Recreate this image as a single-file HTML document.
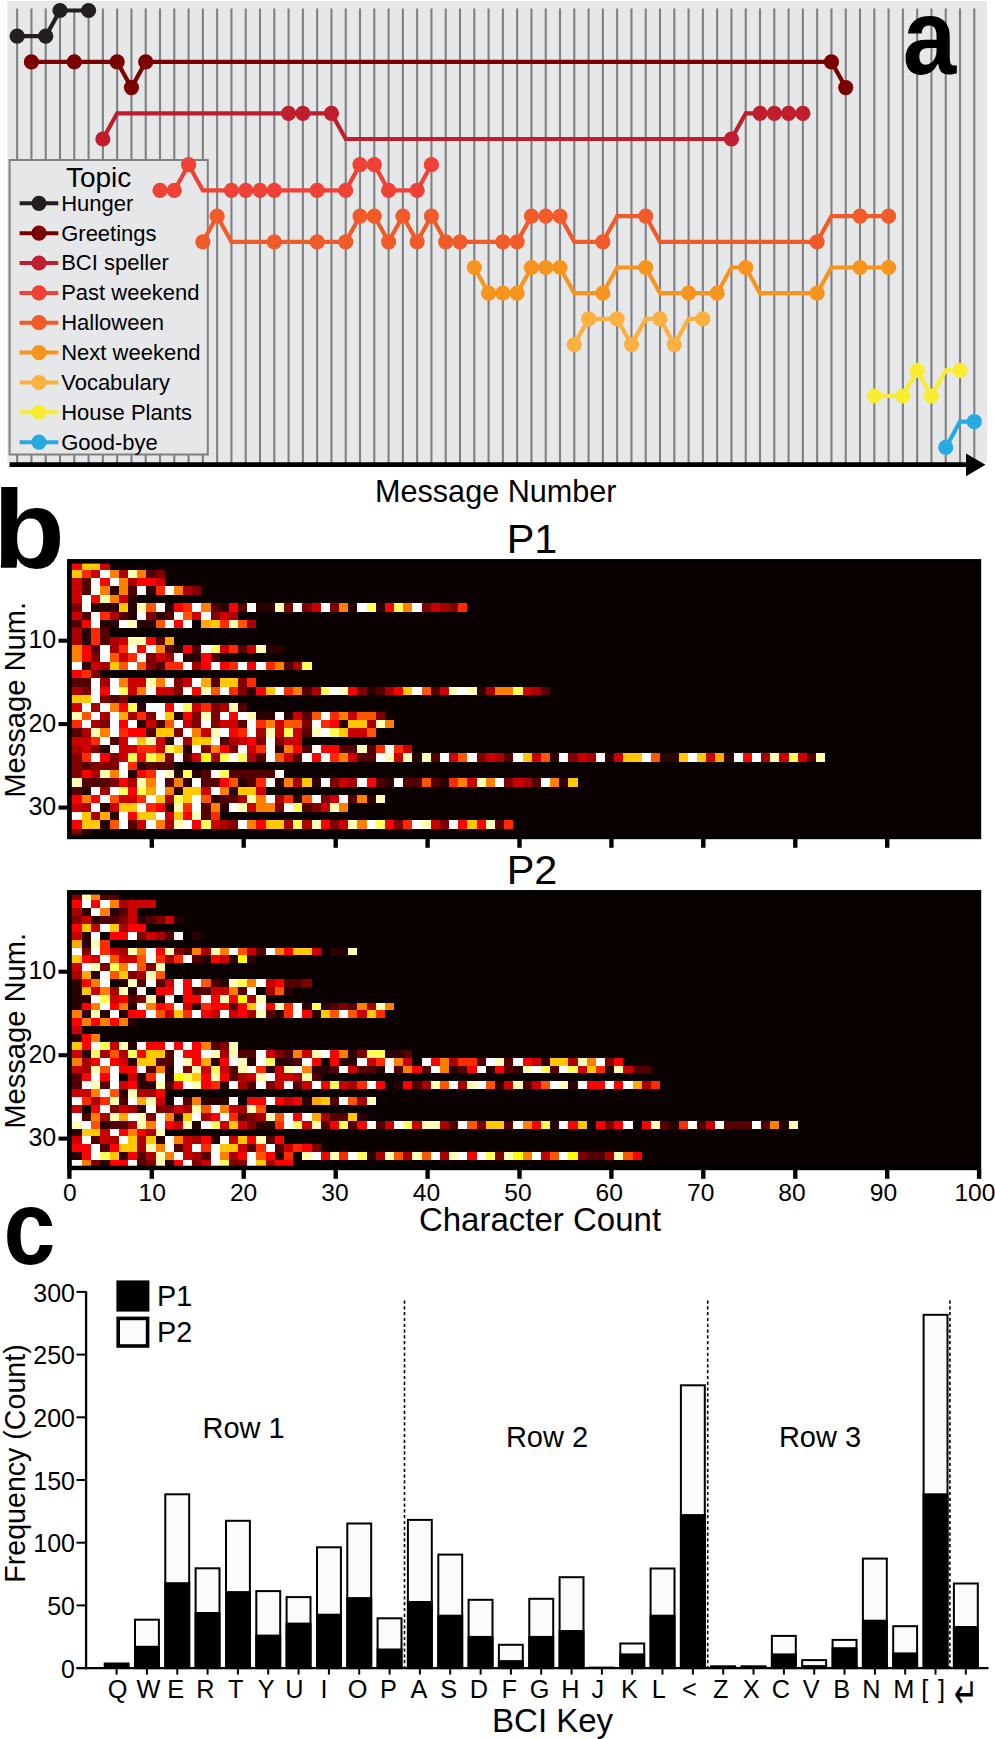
<!DOCTYPE html>
<html lang="en"><head><meta charset="utf-8"><title>Figure</title>
<style>html,body{margin:0;padding:0;background:#fff}svg{display:block}text{font-family:"Liberation Sans", "DejaVu Sans", sans-serif;fill:#000}</style></head><body>
<svg width="995" height="1739" viewBox="0 0 995 1739">
<rect width="995" height="1739" fill="#fff"/>
<g id="panel-a">
<rect x="7.3" y="1" width="979.7" height="462" fill="#e6e7e8"/>
<path d="M17.15 8.5V463M31.44 8.5V463M45.72 8.5V463M60.01 8.5V463M74.29 8.5V463M88.58 8.5V463M102.87 8.5V463M117.15 8.5V463M131.44 8.5V463M145.72 8.5V463M160.01 8.5V463M174.30 8.5V463M188.58 8.5V463M202.87 8.5V463M217.15 8.5V463M231.44 8.5V463M245.73 8.5V463M260.01 8.5V463M274.30 8.5V463M288.58 8.5V463M302.87 8.5V463M317.16 8.5V463M331.44 8.5V463M345.73 8.5V463M360.01 8.5V463M374.30 8.5V463M388.59 8.5V463M402.87 8.5V463M417.16 8.5V463M431.44 8.5V463M445.73 8.5V463M460.02 8.5V463M474.30 8.5V463M488.59 8.5V463M502.87 8.5V463M517.16 8.5V463M531.45 8.5V463M545.73 8.5V463M560.02 8.5V463M574.30 8.5V463M588.59 8.5V463M602.88 8.5V463M617.16 8.5V463M631.45 8.5V463M645.73 8.5V463M660.02 8.5V463M674.31 8.5V463M688.59 8.5V463M702.88 8.5V463M717.16 8.5V463M731.45 8.5V463M745.74 8.5V463M760.02 8.5V463M774.31 8.5V463M788.59 8.5V463M802.88 8.5V463M817.17 8.5V463M831.45 8.5V463M845.74 8.5V463M860.02 8.5V463M874.31 8.5V463M888.60 8.5V463M902.88 8.5V463M917.17 8.5V463M931.45 8.5V463M945.74 8.5V463M960.03 8.5V463M974.31 8.5V463" stroke="#808080" stroke-width="2.1" fill="none"/>
<rect x="9.6" y="160" width="198.2" height="294.5" fill="#e6e7e8" stroke="#808080" stroke-width="2"/>
<text x="98.6" y="186.6" font-size="28" text-anchor="middle">Topic</text>
<path d="M19.6 203.3H58.3" stroke="#231f20" stroke-width="4"/><circle cx="39" cy="203.3" r="7.6" fill="#231f20"/>
<text x="61.2" y="210.7" font-size="22">Hunger</text>
<path d="M19.6 233.2H58.3" stroke="#7b0000" stroke-width="4"/><circle cx="39" cy="233.2" r="7.6" fill="#7b0000"/>
<text x="61.2" y="240.6" font-size="22">Greetings</text>
<path d="M19.6 263.0H58.3" stroke="#be1e2d" stroke-width="4"/><circle cx="39" cy="263.0" r="7.6" fill="#be1e2d"/>
<text x="61.2" y="270.4" font-size="22">BCI speller</text>
<path d="M19.6 292.9H58.3" stroke="#ef4136" stroke-width="4"/><circle cx="39" cy="292.9" r="7.6" fill="#ef4136"/>
<text x="61.2" y="300.3" font-size="22">Past weekend</text>
<path d="M19.6 322.7H58.3" stroke="#f15a29" stroke-width="4"/><circle cx="39" cy="322.7" r="7.6" fill="#f15a29"/>
<text x="61.2" y="330.1" font-size="22">Halloween</text>
<path d="M19.6 352.6H58.3" stroke="#f7941d" stroke-width="4"/><circle cx="39" cy="352.6" r="7.6" fill="#f7941d"/>
<text x="61.2" y="360.0" font-size="22">Next weekend</text>
<path d="M19.6 382.5H58.3" stroke="#fbb040" stroke-width="4"/><circle cx="39" cy="382.5" r="7.6" fill="#fbb040"/>
<text x="61.2" y="389.9" font-size="22">Vocabulary</text>
<path d="M19.6 412.3H58.3" stroke="#f9ed32" stroke-width="4"/><circle cx="39" cy="412.3" r="7.6" fill="#f9ed32"/>
<text x="61.2" y="419.7" font-size="22">House Plants</text>
<path d="M19.6 442.2H58.3" stroke="#27aae1" stroke-width="4"/><circle cx="39" cy="442.2" r="7.6" fill="#27aae1"/>
<text x="61.2" y="449.6" font-size="22">Good-bye</text>
<path d="M17.15 36.20L45.72 36.20L60.01 10.50L88.58 10.50" stroke="#231f20" stroke-width="4.2" fill="none" stroke-linejoin="miter"/>
<circle cx="17.15" cy="36.20" r="7.6" fill="#231f20"/><circle cx="45.72" cy="36.20" r="7.6" fill="#231f20"/><circle cx="60.01" cy="10.50" r="7.6" fill="#231f20"/><circle cx="88.58" cy="10.50" r="7.6" fill="#231f20"/>
<path d="M31.44 61.90L74.29 61.90L117.15 61.90L131.44 87.60L145.72 61.90L831.45 61.90L845.74 87.60" stroke="#7b0000" stroke-width="4.2" fill="none" stroke-linejoin="miter"/>
<circle cx="31.44" cy="61.90" r="7.6" fill="#7b0000"/><circle cx="74.29" cy="61.90" r="7.6" fill="#7b0000"/><circle cx="117.15" cy="61.90" r="7.6" fill="#7b0000"/><circle cx="131.44" cy="87.60" r="7.6" fill="#7b0000"/><circle cx="145.72" cy="61.90" r="7.6" fill="#7b0000"/><circle cx="831.45" cy="61.90" r="7.6" fill="#7b0000"/><circle cx="845.74" cy="87.60" r="7.6" fill="#7b0000"/>
<path d="M102.87 139.00L117.15 113.30L288.58 113.30L302.87 113.30L331.44 113.30L345.73 139.00L731.45 139.00L745.74 113.30L760.02 113.30L774.31 113.30L788.59 113.30L802.88 113.30" stroke="#be1e2d" stroke-width="4.2" fill="none" stroke-linejoin="miter"/>
<circle cx="102.87" cy="139.00" r="7.6" fill="#be1e2d"/><circle cx="288.58" cy="113.30" r="7.6" fill="#be1e2d"/><circle cx="302.87" cy="113.30" r="7.6" fill="#be1e2d"/><circle cx="331.44" cy="113.30" r="7.6" fill="#be1e2d"/><circle cx="731.45" cy="139.00" r="7.6" fill="#be1e2d"/><circle cx="760.02" cy="113.30" r="7.6" fill="#be1e2d"/><circle cx="774.31" cy="113.30" r="7.6" fill="#be1e2d"/><circle cx="788.59" cy="113.30" r="7.6" fill="#be1e2d"/><circle cx="802.88" cy="113.30" r="7.6" fill="#be1e2d"/>
<path d="M160.01 190.40L174.30 190.40L188.58 164.70L202.87 190.40L231.44 190.40L245.73 190.40L260.01 190.40L274.30 190.40L317.16 190.40L345.73 190.40L360.01 164.70L374.30 164.70L388.59 190.40L417.16 190.40L431.44 164.70" stroke="#ef4136" stroke-width="4.2" fill="none" stroke-linejoin="miter"/>
<circle cx="160.01" cy="190.40" r="7.6" fill="#ef4136"/><circle cx="174.30" cy="190.40" r="7.6" fill="#ef4136"/><circle cx="188.58" cy="164.70" r="7.6" fill="#ef4136"/><circle cx="231.44" cy="190.40" r="7.6" fill="#ef4136"/><circle cx="245.73" cy="190.40" r="7.6" fill="#ef4136"/><circle cx="260.01" cy="190.40" r="7.6" fill="#ef4136"/><circle cx="274.30" cy="190.40" r="7.6" fill="#ef4136"/><circle cx="317.16" cy="190.40" r="7.6" fill="#ef4136"/><circle cx="345.73" cy="190.40" r="7.6" fill="#ef4136"/><circle cx="360.01" cy="164.70" r="7.6" fill="#ef4136"/><circle cx="374.30" cy="164.70" r="7.6" fill="#ef4136"/><circle cx="388.59" cy="190.40" r="7.6" fill="#ef4136"/><circle cx="417.16" cy="190.40" r="7.6" fill="#ef4136"/><circle cx="431.44" cy="164.70" r="7.6" fill="#ef4136"/>
<path d="M202.87 241.80L217.15 216.10L231.44 241.80L274.30 241.80L317.16 241.80L345.73 241.80L360.01 216.10L374.30 216.10L388.59 241.80L402.87 216.10L417.16 241.80L431.44 216.10L445.73 241.80L460.02 241.80L502.87 241.80L517.16 241.80L531.45 216.10L545.73 216.10L560.02 216.10L574.30 241.80L602.88 241.80L617.16 216.10L645.73 216.10L660.02 241.80L817.17 241.80L831.45 216.10L860.02 216.10L888.60 216.10" stroke="#f15a29" stroke-width="4.2" fill="none" stroke-linejoin="miter"/>
<circle cx="202.87" cy="241.80" r="7.6" fill="#f15a29"/><circle cx="217.15" cy="216.10" r="7.6" fill="#f15a29"/><circle cx="274.30" cy="241.80" r="7.6" fill="#f15a29"/><circle cx="317.16" cy="241.80" r="7.6" fill="#f15a29"/><circle cx="345.73" cy="241.80" r="7.6" fill="#f15a29"/><circle cx="360.01" cy="216.10" r="7.6" fill="#f15a29"/><circle cx="374.30" cy="216.10" r="7.6" fill="#f15a29"/><circle cx="388.59" cy="241.80" r="7.6" fill="#f15a29"/><circle cx="402.87" cy="216.10" r="7.6" fill="#f15a29"/><circle cx="417.16" cy="241.80" r="7.6" fill="#f15a29"/><circle cx="431.44" cy="216.10" r="7.6" fill="#f15a29"/><circle cx="445.73" cy="241.80" r="7.6" fill="#f15a29"/><circle cx="460.02" cy="241.80" r="7.6" fill="#f15a29"/><circle cx="502.87" cy="241.80" r="7.6" fill="#f15a29"/><circle cx="517.16" cy="241.80" r="7.6" fill="#f15a29"/><circle cx="531.45" cy="216.10" r="7.6" fill="#f15a29"/><circle cx="545.73" cy="216.10" r="7.6" fill="#f15a29"/><circle cx="560.02" cy="216.10" r="7.6" fill="#f15a29"/><circle cx="602.88" cy="241.80" r="7.6" fill="#f15a29"/><circle cx="645.73" cy="216.10" r="7.6" fill="#f15a29"/><circle cx="817.17" cy="241.80" r="7.6" fill="#f15a29"/><circle cx="860.02" cy="216.10" r="7.6" fill="#f15a29"/><circle cx="888.60" cy="216.10" r="7.6" fill="#f15a29"/>
<path d="M474.30 267.50L488.59 293.20L502.87 293.20L517.16 293.20L531.45 267.50L545.73 267.50L560.02 267.50L574.30 293.20L602.88 293.20L617.16 267.50L645.73 267.50L660.02 293.20L688.59 293.20L717.16 293.20L731.45 267.50L745.74 267.50L760.02 293.20L817.17 293.20L831.45 267.50L860.02 267.50L888.60 267.50" stroke="#f7941d" stroke-width="4.2" fill="none" stroke-linejoin="miter"/>
<circle cx="474.30" cy="267.50" r="7.6" fill="#f7941d"/><circle cx="488.59" cy="293.20" r="7.6" fill="#f7941d"/><circle cx="502.87" cy="293.20" r="7.6" fill="#f7941d"/><circle cx="517.16" cy="293.20" r="7.6" fill="#f7941d"/><circle cx="531.45" cy="267.50" r="7.6" fill="#f7941d"/><circle cx="545.73" cy="267.50" r="7.6" fill="#f7941d"/><circle cx="560.02" cy="267.50" r="7.6" fill="#f7941d"/><circle cx="602.88" cy="293.20" r="7.6" fill="#f7941d"/><circle cx="645.73" cy="267.50" r="7.6" fill="#f7941d"/><circle cx="688.59" cy="293.20" r="7.6" fill="#f7941d"/><circle cx="717.16" cy="293.20" r="7.6" fill="#f7941d"/><circle cx="745.74" cy="267.50" r="7.6" fill="#f7941d"/><circle cx="817.17" cy="293.20" r="7.6" fill="#f7941d"/><circle cx="860.02" cy="267.50" r="7.6" fill="#f7941d"/><circle cx="888.60" cy="267.50" r="7.6" fill="#f7941d"/>
<path d="M574.30 344.60L588.59 318.90L617.16 318.90L631.45 344.60L645.73 318.90L660.02 318.90L674.31 344.60L688.59 318.90L702.88 318.90" stroke="#fbb040" stroke-width="4.2" fill="none" stroke-linejoin="miter"/>
<circle cx="574.30" cy="344.60" r="7.6" fill="#fbb040"/><circle cx="588.59" cy="318.90" r="7.6" fill="#fbb040"/><circle cx="617.16" cy="318.90" r="7.6" fill="#fbb040"/><circle cx="631.45" cy="344.60" r="7.6" fill="#fbb040"/><circle cx="660.02" cy="318.90" r="7.6" fill="#fbb040"/><circle cx="674.31" cy="344.60" r="7.6" fill="#fbb040"/><circle cx="702.88" cy="318.90" r="7.6" fill="#fbb040"/>
<path d="M874.31 396.00L902.88 396.00L917.17 370.30L931.45 396.00L945.74 370.30L960.03 370.30" stroke="#f9ed32" stroke-width="4.2" fill="none" stroke-linejoin="miter"/>
<circle cx="874.31" cy="396.00" r="7.6" fill="#f9ed32"/><circle cx="902.88" cy="396.00" r="7.6" fill="#f9ed32"/><circle cx="917.17" cy="370.30" r="7.6" fill="#f9ed32"/><circle cx="931.45" cy="396.00" r="7.6" fill="#f9ed32"/><circle cx="960.03" cy="370.30" r="7.6" fill="#f9ed32"/>
<path d="M945.74 447.40L960.03 421.70L974.31 421.70" stroke="#27aae1" stroke-width="4.2" fill="none" stroke-linejoin="miter"/>
<circle cx="945.74" cy="447.40" r="7.6" fill="#27aae1"/><circle cx="974.31" cy="421.70" r="7.6" fill="#27aae1"/>
<path d="M9.5 464.6H968" stroke="#000" stroke-width="4.6"/><path d="M966 453.5L985.5 464.8L966 476.2z" fill="#000"/>
<text x="375" y="501.5" font-size="32" textLength="241.5" lengthAdjust="spacingAndGlyphs">Message Number</text>
<text transform="translate(902.7 73.9) scale(0.89 1)" font-size="108" font-weight="bold">a</text>
</g>
<g id="panel-b">
<g id="P1">
<rect x="67.2" y="559.2" width="913.9" height="279.9" fill="#0b0000"/>
<clipPath id="clipP1"><rect x="71.6" y="562.2" width="906" height="273.9"/></clipPath>
<g shape-rendering="crispEdges" clip-path="url(#clipP1)">
<path fill="#ff0000" d="M63.7 561.4H82.1V569.7H63.7zM100.4 578.1H109.6V586.4H100.4zM137.1 578.1H155.5V586.4H137.1zM91.3 594.8H100.4V603.1H91.3zM173.8 603.1H183.0V611.5H173.8zM228.9 603.1H238.1V611.5H228.9zM384.9 603.1H394.0V611.5H384.9zM82.1 619.8H91.3V628.2H82.1zM173.8 619.8H183.0V628.2H173.8zM146.3 636.5H155.5V644.9H146.3zM82.1 644.9H91.3V653.2H82.1zM137.1 644.9H146.3V653.2H137.1zM183.0 644.9H192.2V653.2H183.0zM82.1 653.2H91.3V661.5H82.1zM201.4 653.2H210.5V661.5H201.4zM201.4 661.5H210.5V669.9H201.4zM219.7 661.5H228.9V669.9H219.7zM247.2 661.5H256.4V669.9H247.2zM63.7 669.9H82.1V678.2H63.7zM100.4 686.6H109.6V694.9H100.4zM192.2 686.6H201.4V694.9H192.2zM256.4 686.6H265.6V694.9H256.4zM348.2 686.6H357.3V694.9H348.2zM394.0 686.6H403.2V694.9H394.0zM118.8 703.3H128.0V711.6H118.8zM164.7 703.3H173.8V711.6H164.7zM183.0 711.6H192.2V720.0H183.0zM228.9 711.6H238.1V720.0H228.9zM118.8 720.0H128.0V728.3H118.8zM329.8 720.0H339.0V728.3H329.8zM128.0 728.3H146.3V736.7H128.0zM228.9 728.3H238.1V736.7H228.9zM247.2 736.7H256.4V745.0H247.2zM219.7 745.0H228.9V753.3H219.7zM293.1 745.0H302.3V753.3H293.1zM320.6 745.0H339.0V753.3H320.6zM100.4 753.3H109.6V761.7H100.4zM137.1 753.3H146.3V761.7H137.1zM311.5 753.3H320.6V761.7H311.5zM742.7 753.3H751.9V761.7H742.7zM82.1 770.0H91.3V778.4H82.1zM137.1 770.0H146.3V778.4H137.1zM118.8 778.4H128.0V786.7H118.8zM219.7 778.4H228.9V786.7H219.7zM366.5 778.4H375.7V786.7H366.5zM128.0 786.7H137.1V795.1H128.0zM63.7 795.1H82.1V803.4H63.7zM91.3 795.1H100.4V803.4H91.3zM155.5 803.4H164.7V811.8H155.5zM128.0 811.8H137.1V820.1H128.0zM183.0 811.8H192.2V820.1H183.0zM63.7 820.1H82.1V828.5H63.7zM192.2 820.1H201.4V828.5H192.2zM256.4 820.1H265.6V828.5H256.4zM320.6 820.1H329.8V828.5H320.6zM384.9 820.1H394.0V828.5H384.9zM458.3 820.1H467.4V828.5H458.3zM476.6 820.1H485.8V828.5H476.6z"/>
<path fill="#ffc800" d="M82.1 561.4H100.4V569.7H82.1zM63.7 569.7H82.1V578.1H63.7zM118.8 603.1H128.0V611.5H118.8zM210.5 619.8H219.7V628.2H210.5zM109.6 661.5H118.8V669.9H109.6zM219.7 678.2H238.1V686.6H219.7zM265.6 686.6H274.8V694.9H265.6zM403.2 686.6H412.4V694.9H403.2zM63.7 694.9H91.3V703.3H63.7zM164.7 711.6H173.8V720.0H164.7zM348.2 720.0H366.5V728.3H348.2zM155.5 728.3H173.8V736.7H155.5zM339.0 728.3H348.2V736.7H339.0zM137.1 736.7H146.3V745.0H137.1zM192.2 736.7H210.5V745.0H192.2zM173.8 745.0H183.0V753.3H173.8zM155.5 753.3H164.7V761.7H155.5zM522.5 753.3H531.6V761.7H522.5zM623.4 753.3H641.8V761.7H623.4zM678.5 753.3H687.6V761.7H678.5zM696.8 753.3H706.0V761.7H696.8zM302.3 778.4H311.5V786.7H302.3zM568.4 778.4H577.5V786.7H568.4zM183.0 786.7H201.4V795.1H183.0zM238.1 786.7H256.4V795.1H238.1zM155.5 795.1H164.7V803.4H155.5zM183.0 795.1H192.2V803.4H183.0zM118.8 803.4H137.1V811.8H118.8zM82.1 811.8H91.3V820.1H82.1zM137.1 811.8H155.5V820.1H137.1zM173.8 811.8H183.0V820.1H173.8zM82.1 820.1H100.4V828.5H82.1zM265.6 820.1H283.9V828.5H265.6zM467.4 820.1H476.6V828.5H467.4z"/>
<path fill="#cc0000" d="M100.4 561.4H109.6V569.7H100.4zM91.3 569.7H100.4V578.1H91.3zM63.7 578.1H82.1V586.4H63.7zM155.5 578.1H164.7V586.4H155.5zM63.7 586.4H82.1V594.8H63.7zM63.7 594.8H82.1V603.1H63.7zM118.8 594.8H128.0V603.1H118.8zM311.5 603.1H320.6V611.5H311.5zM430.7 603.1H439.9V611.5H430.7zM63.7 611.5H82.1V619.8H63.7zM192.2 611.5H201.4V619.8H192.2zM219.7 611.5H228.9V619.8H219.7zM118.8 636.5H128.0V644.9H118.8zM219.7 644.9H228.9V653.2H219.7zM247.2 644.9H256.4V653.2H247.2zM118.8 653.2H128.0V661.5H118.8zM155.5 653.2H164.7V661.5H155.5zM91.3 661.5H100.4V669.9H91.3zM128.0 678.2H146.3V686.6H128.0zM183.0 678.2H192.2V686.6H183.0zM128.0 686.6H137.1V694.9H128.0zM155.5 686.6H173.8V694.9H155.5zM439.9 686.6H449.1V694.9H439.9zM522.5 686.6H531.6V694.9H522.5zM63.7 703.3H82.1V711.6H63.7zM192.2 703.3H201.4V711.6H192.2zM293.1 711.6H302.3V720.0H293.1zM348.2 711.6H357.3V720.0H348.2zM146.3 720.0H155.5V728.3H146.3zM183.0 720.0H192.2V728.3H183.0zM219.7 720.0H238.1V728.3H219.7zM274.8 720.0H283.9V728.3H274.8zM201.4 728.3H210.5V736.7H201.4zM274.8 728.3H283.9V736.7H274.8zM293.1 728.3H302.3V736.7H293.1zM348.2 728.3H366.5V736.7H348.2zM63.7 736.7H91.3V745.0H63.7zM118.8 736.7H128.0V745.0H118.8zM155.5 736.7H164.7V745.0H155.5zM238.1 736.7H247.2V745.0H238.1zM283.9 736.7H302.3V745.0H283.9zM82.1 745.0H91.3V753.3H82.1zM118.8 745.0H137.1V753.3H118.8zM155.5 745.0H164.7V753.3H155.5zM247.2 745.0H256.4V753.3H247.2zM403.2 745.0H412.4V753.3H403.2zM118.8 753.3H128.0V761.7H118.8zM192.2 753.3H201.4V761.7H192.2zM283.9 753.3H293.1V761.7H283.9zM348.2 753.3H357.3V761.7H348.2zM394.0 753.3H403.2V761.7H394.0zM449.1 753.3H458.3V761.7H449.1zM485.8 753.3H495.0V761.7H485.8zM531.6 753.3H540.8V761.7H531.6zM577.5 753.3H586.7V761.7H577.5zM614.2 753.3H623.4V761.7H614.2zM706.0 753.3H715.2V761.7H706.0zM779.4 753.3H788.6V761.7H779.4zM797.7 753.3H806.9V761.7H797.7zM339.0 778.4H348.2V786.7H339.0zM467.4 778.4H476.6V786.7H467.4zM513.3 778.4H522.5V786.7H513.3zM201.4 786.7H210.5V795.1H201.4zM256.4 786.7H265.6V795.1H256.4zM118.8 795.1H137.1V803.4H118.8zM329.8 795.1H339.0V803.4H329.8zM63.7 803.4H82.1V811.8H63.7zM109.6 803.4H118.8V811.8H109.6zM247.2 803.4H256.4V811.8H247.2zM320.6 803.4H329.8V811.8H320.6zM164.7 811.8H173.8V820.1H164.7zM137.1 820.1H146.3V828.5H137.1zM210.5 820.1H219.7V828.5H210.5zM339.0 820.1H348.2V828.5H339.0zM430.7 820.1H439.9V828.5H430.7z"/>
<path fill="#ff2a00" d="M82.1 569.7H91.3V578.1H82.1zM155.5 586.4H164.7V594.8H155.5zM183.0 603.1H192.2V611.5H183.0zM458.3 603.1H467.4V611.5H458.3zM100.4 611.5H109.6V619.8H100.4zM219.7 619.8H228.9V628.2H219.7zM91.3 628.2H100.4V636.5H91.3zM91.3 636.5H100.4V644.9H91.3zM118.8 644.9H128.0V653.2H118.8zM228.9 644.9H238.1V653.2H228.9zM128.0 653.2H137.1V661.5H128.0zM164.7 661.5H183.0V669.9H164.7zM228.9 661.5H238.1V669.9H228.9zM265.6 661.5H274.8V669.9H265.6zM82.1 669.9H91.3V678.2H82.1zM247.2 678.2H256.4V686.6H247.2zM228.9 686.6H238.1V694.9H228.9zM283.9 686.6H293.1V694.9H283.9zM201.4 703.3H210.5V711.6H201.4zM137.1 711.6H146.3V720.0H137.1zM329.8 711.6H339.0V720.0H329.8zM63.7 720.0H82.1V728.3H63.7zM256.4 720.0H265.6V728.3H256.4zM320.6 720.0H329.8V728.3H320.6zM118.8 728.3H128.0V736.7H118.8zM238.1 728.3H247.2V736.7H238.1zM91.3 736.7H100.4V745.0H91.3zM137.1 745.0H155.5V753.3H137.1zM256.4 745.0H265.6V753.3H256.4zM375.7 745.0H384.9V753.3H375.7zM394.0 745.0H403.2V753.3H394.0zM82.1 753.3H91.3V761.7H82.1zM329.8 753.3H339.0V761.7H329.8zM128.0 761.7H137.1V770.0H128.0zM146.3 770.0H155.5V778.4H146.3zM256.4 778.4H265.6V786.7H256.4zM449.1 778.4H458.3V786.7H449.1zM137.1 795.1H146.3V803.4H137.1zM283.9 795.1H293.1V803.4H283.9zM146.3 803.4H155.5V811.8H146.3zM183.0 803.4H192.2V811.8H183.0zM210.5 811.8H219.7V820.1H210.5zM403.2 820.1H412.4V828.5H403.2zM504.1 820.1H513.3V828.5H504.1z"/>
<path fill="#ffffff" d="M100.4 569.7H109.6V578.1H100.4zM91.3 578.1H100.4V586.4H91.3zM109.6 578.1H118.8V586.4H109.6zM91.3 586.4H100.4V594.8H91.3zM137.1 586.4H146.3V594.8H137.1zM164.7 586.4H173.8V594.8H164.7zM82.1 594.8H91.3V603.1H82.1zM82.1 603.1H91.3V611.5H82.1zM155.5 603.1H164.7V611.5H155.5zM192.2 603.1H201.4V611.5H192.2zM247.2 603.1H256.4V611.5H247.2zM293.1 603.1H302.3V611.5H293.1zM320.6 603.1H329.8V611.5H320.6zM357.3 603.1H366.5V611.5H357.3zM412.4 603.1H421.6V611.5H412.4zM91.3 611.5H100.4V619.8H91.3zM137.1 611.5H146.3V619.8H137.1zM173.8 611.5H183.0V619.8H173.8zM201.4 611.5H210.5V619.8H201.4zM91.3 619.8H100.4V628.2H91.3zM118.8 619.8H128.0V628.2H118.8zM164.7 619.8H173.8V628.2H164.7zM183.0 619.8H192.2V628.2H183.0zM100.4 644.9H109.6V653.2H100.4zM128.0 644.9H137.1V653.2H128.0zM146.3 644.9H155.5V653.2H146.3zM201.4 644.9H210.5V653.2H201.4zM100.4 653.2H109.6V661.5H100.4zM137.1 653.2H146.3V661.5H137.1zM173.8 653.2H183.0V661.5H173.8zM63.7 661.5H82.1V669.9H63.7zM128.0 661.5H137.1V669.9H128.0zM183.0 661.5H192.2V669.9H183.0zM210.5 661.5H219.7V669.9H210.5zM238.1 661.5H247.2V669.9H238.1zM256.4 661.5H265.6V669.9H256.4zM91.3 678.2H100.4V686.6H91.3zM109.6 678.2H118.8V686.6H109.6zM164.7 678.2H173.8V686.6H164.7zM192.2 678.2H201.4V686.6H192.2zM91.3 686.6H100.4V694.9H91.3zM109.6 686.6H118.8V694.9H109.6zM146.3 686.6H155.5V694.9H146.3zM183.0 686.6H192.2V694.9H183.0zM219.7 686.6H228.9V694.9H219.7zM274.8 686.6H283.9V694.9H274.8zM329.8 686.6H339.0V694.9H329.8zM412.4 686.6H421.6V694.9H412.4zM458.3 686.6H467.4V694.9H458.3zM91.3 694.9H100.4V703.3H91.3zM82.1 703.3H91.3V711.6H82.1zM100.4 703.3H109.6V711.6H100.4zM146.3 703.3H164.7V711.6H146.3zM173.8 703.3H183.0V711.6H173.8zM91.3 711.6H100.4V720.0H91.3zM109.6 711.6H118.8V720.0H109.6zM155.5 711.6H164.7V720.0H155.5zM219.7 711.6H228.9V720.0H219.7zM238.1 711.6H247.2V720.0H238.1zM274.8 711.6H283.9V720.0H274.8zM320.6 711.6H329.8V720.0H320.6zM82.1 720.0H91.3V728.3H82.1zM109.6 720.0H118.8V728.3H109.6zM128.0 720.0H137.1V728.3H128.0zM173.8 720.0H183.0V728.3H173.8zM201.4 720.0H210.5V728.3H201.4zM247.2 720.0H256.4V728.3H247.2zM311.5 720.0H320.6V728.3H311.5zM109.6 728.3H118.8V736.7H109.6zM183.0 728.3H192.2V736.7H183.0zM219.7 728.3H228.9V736.7H219.7zM247.2 728.3H256.4V736.7H247.2zM320.6 728.3H329.8V736.7H320.6zM100.4 736.7H109.6V745.0H100.4zM128.0 736.7H137.1V745.0H128.0zM173.8 736.7H183.0V745.0H173.8zM210.5 736.7H219.7V745.0H210.5zM265.6 736.7H274.8V745.0H265.6zM109.6 745.0H118.8V753.3H109.6zM192.2 745.0H201.4V753.3H192.2zM238.1 745.0H247.2V753.3H238.1zM265.6 745.0H274.8V753.3H265.6zM311.5 745.0H320.6V753.3H311.5zM384.9 745.0H394.0V753.3H384.9zM91.3 753.3H100.4V761.7H91.3zM173.8 753.3H183.0V761.7H173.8zM228.9 753.3H238.1V761.7H228.9zM265.6 753.3H274.8V761.7H265.6zM302.3 753.3H311.5V761.7H302.3zM320.6 753.3H329.8V761.7H320.6zM375.7 753.3H384.9V761.7H375.7zM439.9 753.3H449.1V761.7H439.9zM467.4 753.3H476.6V761.7H467.4zM513.3 753.3H522.5V761.7H513.3zM559.2 753.3H568.4V761.7H559.2zM595.9 753.3H605.1V761.7H595.9zM641.8 753.3H650.9V761.7H641.8zM687.6 753.3H696.8V761.7H687.6zM733.5 753.3H742.7V761.7H733.5zM751.9 753.3H761.0V761.7H751.9zM118.8 761.7H128.0V770.0H118.8zM118.8 770.0H128.0V778.4H118.8zM155.5 770.0H164.7V778.4H155.5zM210.5 770.0H219.7V778.4H210.5zM274.8 770.0H283.9V778.4H274.8zM155.5 778.4H164.7V786.7H155.5zM192.2 778.4H201.4V786.7H192.2zM265.6 778.4H274.8V786.7H265.6zM320.6 778.4H329.8V786.7H320.6zM357.3 778.4H366.5V786.7H357.3zM394.0 778.4H403.2V786.7H394.0zM495.0 778.4H504.1V786.7H495.0zM540.8 778.4H550.0V786.7H540.8zM91.3 786.7H100.4V795.1H91.3zM109.6 786.7H118.8V795.1H109.6zM155.5 786.7H164.7V795.1H155.5zM210.5 786.7H219.7V795.1H210.5zM100.4 795.1H109.6V803.4H100.4zM146.3 795.1H155.5V803.4H146.3zM192.2 795.1H201.4V803.4H192.2zM265.6 795.1H274.8V803.4H265.6zM311.5 795.1H320.6V803.4H311.5zM339.0 795.1H348.2V803.4H339.0zM91.3 803.4H100.4V811.8H91.3zM137.1 803.4H146.3V811.8H137.1zM192.2 803.4H201.4V811.8H192.2zM228.9 803.4H238.1V811.8H228.9zM283.9 803.4H293.1V811.8H283.9zM63.7 811.8H82.1V820.1H63.7zM118.8 811.8H128.0V820.1H118.8zM155.5 811.8H164.7V820.1H155.5zM118.8 820.1H128.0V828.5H118.8zM146.3 820.1H155.5V828.5H146.3zM183.0 820.1H192.2V828.5H183.0zM238.1 820.1H247.2V828.5H238.1zM366.5 820.1H375.7V828.5H366.5zM412.4 820.1H421.6V828.5H412.4zM449.1 820.1H458.3V828.5H449.1z"/>
<path fill="#ff8000" d="M109.6 569.7H118.8V578.1H109.6zM137.1 569.7H146.3V578.1H137.1zM118.8 578.1H128.0V586.4H118.8zM100.4 586.4H109.6V594.8H100.4zM118.8 586.4H128.0V594.8H118.8zM173.8 586.4H183.0V594.8H173.8zM109.6 594.8H118.8V603.1H109.6zM201.4 603.1H210.5V611.5H201.4zM339.0 603.1H348.2V611.5H339.0zM403.2 603.1H412.4V611.5H403.2zM63.7 644.9H82.1V653.2H63.7zM155.5 644.9H164.7V653.2H155.5zM63.7 653.2H82.1V661.5H63.7zM274.8 661.5H283.9V669.9H274.8zM118.8 678.2H128.0V686.6H118.8zM155.5 678.2H164.7V686.6H155.5zM137.1 686.6H146.3V694.9H137.1zM293.1 686.6H302.3V694.9H293.1zM495.0 686.6H513.3V694.9H495.0zM109.6 703.3H118.8V711.6H109.6zM339.0 711.6H348.2V720.0H339.0zM265.6 720.0H274.8V728.3H265.6zM384.9 720.0H394.0V728.3H384.9zM100.4 728.3H109.6V736.7H100.4zM192.2 728.3H201.4V736.7H192.2zM210.5 745.0H219.7V753.3H210.5zM283.9 745.0H293.1V753.3H283.9zM339.0 753.3H348.2V761.7H339.0zM109.6 770.0H118.8V778.4H109.6zM146.3 778.4H155.5V786.7H146.3zM173.8 778.4H183.0V786.7H173.8zM283.9 778.4H293.1V786.7H283.9zM458.3 778.4H467.4V786.7H458.3zM485.8 778.4H495.0V786.7H485.8zM550.0 778.4H559.2V786.7H550.0zM164.7 786.7H173.8V795.1H164.7zM219.7 786.7H228.9V795.1H219.7zM82.1 795.1H91.3V803.4H82.1zM256.4 795.1H265.6V803.4H256.4zM357.3 795.1H366.5V803.4H357.3zM210.5 803.4H219.7V811.8H210.5zM256.4 803.4H274.8V811.8H256.4zM339.0 803.4H348.2V811.8H339.0zM155.5 820.1H164.7V828.5H155.5zM247.2 820.1H256.4V828.5H247.2zM357.3 820.1H366.5V828.5H357.3z"/>
<path fill="#aa0000" d="M118.8 569.7H128.0V578.1H118.8zM128.0 578.1H137.1V586.4H128.0zM183.0 586.4H192.2V594.8H183.0zM439.9 603.1H449.1V611.5H439.9zM109.6 611.5H118.8V619.8H109.6zM228.9 611.5H238.1V619.8H228.9zM247.2 619.8H256.4V628.2H247.2zM63.7 628.2H82.1V636.5H63.7zM63.7 636.5H82.1V644.9H63.7zM109.6 636.5H118.8V644.9H109.6zM109.6 644.9H118.8V653.2H109.6zM164.7 653.2H173.8V661.5H164.7zM100.4 661.5H109.6V669.9H100.4zM192.2 661.5H201.4V669.9H192.2zM293.1 661.5H302.3V669.9H293.1zM100.4 678.2H109.6V686.6H100.4zM63.7 686.6H82.1V694.9H63.7zM311.5 686.6H320.6V694.9H311.5zM384.9 686.6H394.0V694.9H384.9zM485.8 686.6H495.0V694.9H485.8zM531.6 686.6H540.8V694.9H531.6zM91.3 703.3H100.4V711.6H91.3zM219.7 703.3H228.9V711.6H219.7zM100.4 711.6H109.6V720.0H100.4zM128.0 711.6H137.1V720.0H128.0zM91.3 720.0H100.4V728.3H91.3zM366.5 720.0H375.7V728.3H366.5zM82.1 728.3H91.3V736.7H82.1zM256.4 728.3H265.6V736.7H256.4zM183.0 736.7H192.2V745.0H183.0zM228.9 736.7H238.1V745.0H228.9zM63.7 745.0H82.1V753.3H63.7zM210.5 753.3H219.7V761.7H210.5zM247.2 753.3H256.4V761.7H247.2zM495.0 753.3H504.1V761.7H495.0zM586.7 753.3H595.9V761.7H586.7zM761.0 753.3H770.2V761.7H761.0zM91.3 770.0H100.4V778.4H91.3zM128.0 778.4H137.1V786.7H128.0zM293.1 778.4H302.3V786.7H293.1zM348.2 778.4H357.3V786.7H348.2zM522.5 778.4H531.6V786.7H522.5zM100.4 786.7H109.6V795.1H100.4zM164.7 795.1H173.8V803.4H164.7zM238.1 795.1H247.2V803.4H238.1zM274.8 795.1H283.9V803.4H274.8zM82.1 803.4H91.3V811.8H82.1zM91.3 811.8H100.4V820.1H91.3zM164.7 820.1H173.8V828.5H164.7zM219.7 820.1H228.9V828.5H219.7zM283.9 820.1H293.1V828.5H283.9zM302.3 820.1H311.5V828.5H302.3z"/>
<path fill="#ffffb4" d="M128.0 569.7H137.1V578.1H128.0zM100.4 594.8H109.6V603.1H100.4zM137.1 603.1H146.3V611.5H137.1zM274.8 603.1H283.9V611.5H274.8zM128.0 619.8H137.1V628.2H128.0zM228.9 619.8H238.1V628.2H228.9zM128.0 636.5H146.3V644.9H128.0zM256.4 644.9H265.6V653.2H256.4zM146.3 678.2H155.5V686.6H146.3zM201.4 686.6H210.5V694.9H201.4zM339.0 686.6H348.2V694.9H339.0zM449.1 686.6H458.3V694.9H449.1zM467.4 686.6H476.6V694.9H467.4zM228.9 703.3H238.1V711.6H228.9zM63.7 711.6H82.1V720.0H63.7zM201.4 711.6H210.5V720.0H201.4zM247.2 711.6H256.4V720.0H247.2zM375.7 720.0H384.9V728.3H375.7zM91.3 728.3H100.4V736.7H91.3zM210.5 728.3H219.7V736.7H210.5zM265.6 728.3H274.8V736.7H265.6zM311.5 728.3H320.6V736.7H311.5zM146.3 736.7H155.5V745.0H146.3zM357.3 745.0H366.5V753.3H357.3zM384.9 753.3H394.0V761.7H384.9zM403.2 753.3H412.4V761.7H403.2zM421.6 753.3H430.7V761.7H421.6zM770.2 753.3H779.4V761.7H770.2zM816.1 753.3H825.3V761.7H816.1zM100.4 770.0H109.6V778.4H100.4zM164.7 770.0H173.8V778.4H164.7zM63.7 778.4H82.1V786.7H63.7zM137.1 778.4H146.3V786.7H137.1zM476.6 778.4H485.8V786.7H476.6zM247.2 795.1H256.4V803.4H247.2zM375.7 795.1H384.9V803.4H375.7zM173.8 803.4H183.0V811.8H173.8zM238.1 803.4H247.2V811.8H238.1zM329.8 803.4H339.0V811.8H329.8zM192.2 811.8H201.4V820.1H192.2zM173.8 820.1H183.0V828.5H173.8zM311.5 820.1H320.6V828.5H311.5zM348.2 820.1H357.3V828.5H348.2zM421.6 820.1H430.7V828.5H421.6zM485.8 820.1H495.0V828.5H485.8z"/>
<path fill="#550000" d="M146.3 569.7H155.5V578.1H146.3zM82.1 578.1H91.3V586.4H82.1zM82.1 586.4H91.3V594.8H82.1zM128.0 586.4H137.1V594.8H128.0zM210.5 603.1H219.7V611.5H210.5zM238.1 603.1H247.2V611.5H238.1zM82.1 611.5H91.3V619.8H82.1zM118.8 611.5H128.0V619.8H118.8zM164.7 611.5H173.8V619.8H164.7zM63.7 619.8H82.1V628.2H63.7zM100.4 628.2H109.6V636.5H100.4zM100.4 636.5H109.6V644.9H100.4zM155.5 636.5H164.7V644.9H155.5zM91.3 644.9H100.4V653.2H91.3zM164.7 644.9H173.8V653.2H164.7zM192.2 644.9H201.4V653.2H192.2zM238.1 644.9H247.2V653.2H238.1zM210.5 653.2H219.7V661.5H210.5zM155.5 661.5H164.7V669.9H155.5zM283.9 661.5H293.1V669.9H283.9zM63.7 678.2H91.3V686.6H63.7zM210.5 678.2H219.7V686.6H210.5zM302.3 686.6H311.5V694.9H302.3zM375.7 686.6H384.9V694.9H375.7zM430.7 686.6H439.9V694.9H430.7zM540.8 686.6H550.0V694.9H540.8zM109.6 694.9H118.8V703.3H109.6zM238.1 703.3H247.2V711.6H238.1zM302.3 711.6H311.5V720.0H302.3zM155.5 720.0H164.7V728.3H155.5zM238.1 720.0H247.2V728.3H238.1zM63.7 728.3H82.1V736.7H63.7zM146.3 728.3H155.5V736.7H146.3zM302.3 728.3H311.5V736.7H302.3zM109.6 736.7H118.8V745.0H109.6zM219.7 736.7H228.9V745.0H219.7zM302.3 745.0H311.5V753.3H302.3zM339.0 745.0H357.3V753.3H339.0zM366.5 745.0H375.7V753.3H366.5zM183.0 753.3H192.2V761.7H183.0zM256.4 753.3H265.6V761.7H256.4zM293.1 753.3H302.3V761.7H293.1zM357.3 753.3H375.7V761.7H357.3zM430.7 753.3H439.9V761.7H430.7zM504.1 753.3H513.3V761.7H504.1zM806.9 753.3H816.1V761.7H806.9zM82.1 761.7H91.3V770.0H82.1zM146.3 761.7H173.8V770.0H146.3zM201.4 770.0H210.5V778.4H201.4zM228.9 770.0H274.8V778.4H228.9zM82.1 778.4H109.6V786.7H82.1zM164.7 778.4H173.8V786.7H164.7zM201.4 778.4H219.7V786.7H201.4zM247.2 778.4H256.4V786.7H247.2zM375.7 778.4H384.9V786.7H375.7zM403.2 778.4H421.6V786.7H403.2zM430.7 778.4H439.9V786.7H430.7zM531.6 778.4H540.8V786.7H531.6zM63.7 786.7H82.1V795.1H63.7zM219.7 795.1H238.1V803.4H219.7zM348.2 795.1H357.3V803.4H348.2zM201.4 803.4H210.5V811.8H201.4zM302.3 803.4H311.5V811.8H302.3zM201.4 811.8H210.5V820.1H201.4zM128.0 820.1H137.1V828.5H128.0zM495.0 820.1H504.1V828.5H495.0z"/>
<path fill="#800000" d="M155.5 569.7H164.7V578.1H155.5zM192.2 586.4H201.4V594.8H192.2zM63.7 603.1H82.1V611.5H63.7zM283.9 603.1H293.1V611.5H283.9zM302.3 603.1H311.5V611.5H302.3zM329.8 603.1H339.0V611.5H329.8zM421.6 603.1H430.7V611.5H421.6zM449.1 603.1H458.3V611.5H449.1zM146.3 611.5H155.5V619.8H146.3zM210.5 611.5H219.7V619.8H210.5zM91.3 653.2H100.4V661.5H91.3zM146.3 653.2H155.5V661.5H146.3zM146.3 661.5H155.5V669.9H146.3zM91.3 669.9H100.4V678.2H91.3zM173.8 678.2H183.0V686.6H173.8zM238.1 678.2H247.2V686.6H238.1zM82.1 686.6H91.3V694.9H82.1zM173.8 686.6H183.0V694.9H173.8zM238.1 686.6H247.2V694.9H238.1zM357.3 686.6H366.5V694.9H357.3zM100.4 694.9H109.6V703.3H100.4zM118.8 694.9H128.0V703.3H118.8zM210.5 703.3H219.7V711.6H210.5zM146.3 711.6H155.5V720.0H146.3zM192.2 711.6H201.4V720.0H192.2zM210.5 711.6H219.7V720.0H210.5zM375.7 711.6H384.9V720.0H375.7zM100.4 720.0H109.6V728.3H100.4zM192.2 720.0H201.4V728.3H192.2zM210.5 720.0H219.7V728.3H210.5zM302.3 720.0H311.5V728.3H302.3zM173.8 728.3H183.0V736.7H173.8zM256.4 736.7H265.6V745.0H256.4zM274.8 736.7H283.9V745.0H274.8zM91.3 745.0H100.4V753.3H91.3zM201.4 745.0H210.5V753.3H201.4zM228.9 745.0H238.1V753.3H228.9zM63.7 753.3H82.1V761.7H63.7zM109.6 753.3H118.8V761.7H109.6zM164.7 753.3H173.8V761.7H164.7zM476.6 753.3H485.8V761.7H476.6zM568.4 753.3H577.5V761.7H568.4zM63.7 761.7H82.1V770.0H63.7zM91.3 761.7H118.8V770.0H91.3zM63.7 770.0H82.1V778.4H63.7zM109.6 778.4H118.8V786.7H109.6zM329.8 778.4H339.0V786.7H329.8zM504.1 778.4H513.3V786.7H504.1zM320.6 795.1H329.8V803.4H320.6zM274.8 803.4H283.9V811.8H274.8zM311.5 803.4H320.6V811.8H311.5zM228.9 820.1H238.1V828.5H228.9zM329.8 820.1H339.0V828.5H329.8zM394.0 820.1H403.2V828.5H394.0zM439.9 820.1H449.1V828.5H439.9zM63.7 828.5H82.1V836.8H63.7z"/>
<path fill="#2a0000" d="M109.6 586.4H118.8V594.8H109.6zM146.3 586.4H155.5V594.8H146.3zM128.0 594.8H137.1V603.1H128.0zM91.3 603.1H118.8V611.5H91.3zM128.0 603.1H137.1V611.5H128.0zM164.7 603.1H173.8V611.5H164.7zM219.7 603.1H228.9V611.5H219.7zM256.4 603.1H274.8V611.5H256.4zM348.2 603.1H357.3V611.5H348.2zM375.7 603.1H384.9V611.5H375.7zM128.0 611.5H137.1V619.8H128.0zM155.5 611.5H164.7V619.8H155.5zM100.4 619.8H118.8V628.2H100.4zM137.1 619.8H155.5V628.2H137.1zM82.1 628.2H91.3V636.5H82.1zM82.1 636.5H91.3V644.9H82.1zM173.8 644.9H183.0V653.2H173.8zM265.6 644.9H283.9V653.2H265.6zM183.0 653.2H201.4V661.5H183.0zM82.1 661.5H91.3V669.9H82.1zM247.2 686.6H256.4V694.9H247.2zM366.5 686.6H375.7V694.9H366.5zM476.6 686.6H485.8V694.9H476.6zM137.1 703.3H146.3V711.6H137.1zM173.8 711.6H183.0V720.0H173.8zM256.4 711.6H274.8V720.0H256.4zM283.9 711.6H293.1V720.0H283.9zM137.1 720.0H146.3V728.3H137.1zM339.0 720.0H348.2V728.3H339.0zM164.7 736.7H173.8V745.0H164.7zM100.4 745.0H109.6V753.3H100.4zM183.0 745.0H192.2V753.3H183.0zM274.8 745.0H283.9V753.3H274.8zM412.4 753.3H421.6V761.7H412.4zM550.0 753.3H559.2V761.7H550.0zM605.1 753.3H614.2V761.7H605.1zM660.1 753.3H678.5V761.7H660.1zM724.3 753.3H733.5V761.7H724.3zM137.1 761.7H146.3V770.0H137.1zM128.0 770.0H137.1V778.4H128.0zM173.8 770.0H183.0V778.4H173.8zM192.2 770.0H201.4V778.4H192.2zM183.0 778.4H192.2V786.7H183.0zM238.1 778.4H247.2V786.7H238.1zM274.8 778.4H283.9V786.7H274.8zM311.5 778.4H320.6V786.7H311.5zM384.9 778.4H394.0V786.7H384.9zM439.9 778.4H449.1V786.7H439.9zM559.2 778.4H568.4V786.7H559.2zM82.1 786.7H91.3V795.1H82.1zM173.8 786.7H183.0V795.1H173.8zM228.9 786.7H238.1V795.1H228.9zM210.5 795.1H219.7V803.4H210.5zM293.1 795.1H302.3V803.4H293.1zM366.5 795.1H375.7V803.4H366.5zM100.4 803.4H109.6V811.8H100.4zM164.7 803.4H173.8V811.8H164.7zM219.7 803.4H228.9V811.8H219.7zM109.6 811.8H118.8V820.1H109.6zM100.4 820.1H109.6V828.5H100.4zM82.1 828.5H91.3V836.8H82.1z"/>
<path fill="#ff5500" d="M146.3 603.1H155.5V611.5H146.3zM183.0 611.5H192.2V619.8H183.0zM155.5 619.8H164.7V628.2H155.5zM238.1 619.8H247.2V628.2H238.1zM109.6 653.2H118.8V661.5H109.6zM118.8 661.5H128.0V669.9H118.8zM137.1 661.5H146.3V669.9H137.1zM210.5 686.6H219.7V694.9H210.5zM421.6 686.6H430.7V694.9H421.6zM82.1 711.6H91.3V720.0H82.1zM311.5 711.6H320.6V720.0H311.5zM357.3 711.6H375.7V720.0H357.3zM164.7 720.0H173.8V728.3H164.7zM283.9 720.0H302.3V728.3H283.9zM366.5 728.3H375.7V736.7H366.5zM274.8 753.3H283.9V761.7H274.8zM458.3 753.3H467.4V761.7H458.3zM540.8 753.3H550.0V761.7H540.8zM650.9 753.3H660.1V761.7H650.9zM228.9 778.4H238.1V786.7H228.9zM421.6 778.4H430.7V786.7H421.6zM109.6 795.1H118.8V803.4H109.6zM201.4 795.1H210.5V803.4H201.4zM302.3 795.1H311.5V803.4H302.3zM109.6 820.1H118.8V828.5H109.6z"/>
<path fill="#ffff55" d="M366.5 603.1H375.7V611.5H366.5zM394.0 603.1H403.2V611.5H394.0zM210.5 644.9H219.7V653.2H210.5zM302.3 661.5H311.5V669.9H302.3zM118.8 686.6H128.0V694.9H118.8zM320.6 686.6H329.8V694.9H320.6zM513.3 686.6H522.5V694.9H513.3zM128.0 703.3H137.1V711.6H128.0zM183.0 703.3H192.2V711.6H183.0zM283.9 728.3H293.1V736.7H283.9zM329.8 728.3H339.0V736.7H329.8zM164.7 745.0H173.8V753.3H164.7zM128.0 753.3H137.1V761.7H128.0zM146.3 753.3H155.5V761.7H146.3zM219.7 753.3H228.9V761.7H219.7zM238.1 753.3H247.2V761.7H238.1zM788.6 753.3H797.7V761.7H788.6zM183.0 770.0H192.2V778.4H183.0zM219.7 770.0H228.9V778.4H219.7zM118.8 786.7H128.0V795.1H118.8zM137.1 786.7H146.3V795.1H137.1zM173.8 795.1H183.0V803.4H173.8zM293.1 803.4H302.3V811.8H293.1zM201.4 820.1H210.5V828.5H201.4zM293.1 820.1H302.3V828.5H293.1zM375.7 820.1H384.9V828.5H375.7z"/>
<path fill="#ffaa00" d="M201.4 619.8H210.5V628.2H201.4zM164.7 636.5H173.8V644.9H164.7zM201.4 678.2H210.5V686.6H201.4zM118.8 711.6H128.0V720.0H118.8zM715.2 753.3H724.3V761.7H715.2zM146.3 786.7H155.5V795.1H146.3zM100.4 811.8H109.6V820.1H100.4z"/>
<path fill="#ffff00" d="M201.4 753.3H210.5V761.7H201.4z"/>
</g>
<rect x="69.4" y="561.4" width="909.5" height="275.5" fill="none" stroke="#000" stroke-width="4.4"/>
<path d="M58.5 640.7H68" stroke="#000" stroke-width="4.1"/>
<text x="56.2" y="648.3" font-size="25" text-anchor="end">10</text>
<path d="M58.5 724.1H68" stroke="#000" stroke-width="4.1"/>
<text x="56.2" y="731.8" font-size="25" text-anchor="end">20</text>
<path d="M58.5 807.6H68" stroke="#000" stroke-width="4.1"/>
<text x="56.2" y="815.2" font-size="25" text-anchor="end">30</text>
<path d="M151.8 838.1V847.8" stroke="#000" stroke-width="4.4"/>
<path d="M243.7 838.1V847.8" stroke="#000" stroke-width="4.4"/>
<path d="M335.7 838.1V847.8" stroke="#000" stroke-width="4.4"/>
<path d="M427.6 838.1V847.8" stroke="#000" stroke-width="4.4"/>
<path d="M519.5 838.1V847.8" stroke="#000" stroke-width="4.4"/>
<path d="M611.4 838.1V847.8" stroke="#000" stroke-width="4.4"/>
<path d="M703.3 838.1V847.8" stroke="#000" stroke-width="4.4"/>
<path d="M795.3 838.1V847.8" stroke="#000" stroke-width="4.4"/>
<path d="M887.2 838.1V847.8" stroke="#000" stroke-width="4.4"/>
<text x="506.7" y="552.6" font-size="41.4">P1</text>
<text transform="translate(24.9 797.8) rotate(-90)" font-size="30.2" textLength="196" lengthAdjust="spacingAndGlyphs">Message Num.</text>
</g>
<g id="P2">
<rect x="67.2" y="890.2" width="913.9" height="279.9" fill="#0b0000"/>
<clipPath id="clipP2"><rect x="71.6" y="893.2" width="906" height="273.9"/></clipPath>
<g shape-rendering="crispEdges" clip-path="url(#clipP2)">
<path fill="#800000" d="M63.7 892.4H82.1V900.3H63.7zM63.7 916.0H82.1V923.9H63.7zM118.8 916.0H128.0V923.9H118.8zM155.5 916.0H164.7V923.9H155.5zM137.1 931.7H146.3V939.6H137.1zM82.1 947.5H91.3V955.3H82.1zM173.8 947.5H183.0V955.3H173.8zM100.4 963.2H109.6V971.1H100.4zM146.3 963.2H155.5V971.1H146.3zM128.0 971.1H137.1V979.0H128.0zM302.3 979.0H311.5V986.8H302.3zM137.1 994.7H146.3V1002.6H137.1zM339.0 1002.6H348.2V1010.4H339.0zM219.7 1041.9H228.9V1049.8H219.7zM274.8 1049.8H283.9V1057.6H274.8zM357.3 1049.8H366.5V1057.6H357.3zM605.1 1057.6H614.2V1065.5H605.1zM183.0 1065.5H192.2V1073.4H183.0zM265.6 1081.2H274.8V1089.1H265.6zM109.6 1104.9H118.8V1112.7H109.6zM155.5 1104.9H173.8V1112.7H155.5zM146.3 1112.7H155.5V1120.6H146.3zM247.2 1112.7H256.4V1120.6H247.2zM247.2 1120.6H256.4V1128.5H247.2zM476.6 1120.6H485.8V1128.5H476.6zM605.1 1120.6H614.2V1128.5H605.1zM311.5 1144.2H320.6V1152.1H311.5zM495.0 1152.1H504.1V1159.9H495.0zM577.5 1152.1H586.7V1159.9H577.5zM91.3 1159.9H100.4V1167.8H91.3zM146.3 1159.9H155.5V1167.8H146.3zM192.2 1159.9H201.4V1167.8H192.2zM228.9 1159.9H247.2V1167.8H228.9z"/>
<path fill="#ffffb4" d="M82.1 892.4H91.3V900.3H82.1zM91.3 939.6H100.4V947.5H91.3zM128.0 947.5H137.1V955.3H128.0zM164.7 947.5H173.8V955.3H164.7zM210.5 947.5H219.7V955.3H210.5zM348.2 947.5H357.3V955.3H348.2zM91.3 963.2H100.4V971.1H91.3zM155.5 963.2H164.7V971.1H155.5zM146.3 971.1H155.5V979.0H146.3zM128.0 979.0H137.1V986.8H128.0zM228.9 979.0H238.1V986.8H228.9zM118.8 986.8H128.0V994.7H118.8zM146.3 994.7H155.5V1002.6H146.3zM219.7 994.7H228.9V1002.6H219.7zM256.4 994.7H265.6V1002.6H256.4zM274.8 1002.6H283.9V1010.4H274.8zM375.7 1002.6H384.9V1010.4H375.7zM91.3 1010.4H100.4V1018.3H91.3zM256.4 1010.4H265.6V1018.3H256.4zM118.8 1041.9H128.0V1049.8H118.8zM228.9 1041.9H238.1V1049.8H228.9zM210.5 1049.8H219.7V1057.6H210.5zM228.9 1049.8H238.1V1057.6H228.9zM311.5 1049.8H320.6V1057.6H311.5zM183.0 1057.6H192.2V1065.5H183.0zM238.1 1057.6H247.2V1065.5H238.1zM495.0 1057.6H504.1V1065.5H495.0zM577.5 1057.6H586.7V1065.5H577.5zM91.3 1065.5H100.4V1073.4H91.3zM192.2 1065.5H201.4V1073.4H192.2zM238.1 1065.5H247.2V1073.4H238.1zM283.9 1065.5H293.1V1073.4H283.9zM522.5 1065.5H531.6V1073.4H522.5zM614.2 1065.5H623.4V1073.4H614.2zM210.5 1073.4H219.7V1081.2H210.5zM256.4 1073.4H265.6V1081.2H256.4zM302.3 1073.4H311.5V1081.2H302.3zM91.3 1081.2H100.4V1089.1H91.3zM155.5 1081.2H164.7V1089.1H155.5zM192.2 1081.2H201.4V1089.1H192.2zM430.7 1081.2H439.9V1089.1H430.7zM467.4 1081.2H476.6V1089.1H467.4zM513.3 1081.2H522.5V1089.1H513.3zM559.2 1081.2H568.4V1089.1H559.2zM128.0 1089.1H137.1V1097.0H128.0zM109.6 1097.0H118.8V1104.9H109.6zM146.3 1097.0H155.5V1104.9H146.3zM366.5 1097.0H375.7V1104.9H366.5zM192.2 1104.9H201.4V1112.7H192.2zM247.2 1104.9H256.4V1112.7H247.2zM109.6 1112.7H118.8V1120.6H109.6zM137.1 1112.7H146.3V1120.6H137.1zM265.6 1112.7H274.8V1120.6H265.6zM63.7 1120.6H82.1V1128.5H63.7zM137.1 1120.6H146.3V1128.5H137.1zM183.0 1120.6H192.2V1128.5H183.0zM311.5 1120.6H320.6V1128.5H311.5zM421.6 1120.6H439.9V1128.5H421.6zM650.9 1120.6H660.1V1128.5H650.9zM788.6 1120.6H797.7V1128.5H788.6zM155.5 1128.5H164.7V1136.3H155.5zM256.4 1136.3H265.6V1144.2H256.4zM146.3 1144.2H155.5V1152.1H146.3zM155.5 1152.1H164.7V1159.9H155.5zM302.3 1152.1H311.5V1159.9H302.3zM329.8 1152.1H339.0V1159.9H329.8zM384.9 1152.1H394.0V1159.9H384.9zM412.4 1152.1H421.6V1159.9H412.4zM449.1 1152.1H458.3V1159.9H449.1zM504.1 1152.1H513.3V1159.9H504.1zM614.2 1152.1H623.4V1159.9H614.2zM155.5 1159.9H164.7V1167.8H155.5z"/>
<path fill="#ff8000" d="M91.3 892.4H100.4V900.3H91.3zM109.6 900.3H118.8V908.1H109.6zM100.4 908.1H109.6V916.0H100.4zM137.1 947.5H146.3V955.3H137.1zM192.2 947.5H201.4V955.3H192.2zM219.7 947.5H228.9V955.3H219.7zM274.8 947.5H283.9V955.3H274.8zM118.8 963.2H128.0V971.1H118.8zM91.3 979.0H100.4V986.8H91.3zM247.2 979.0H256.4V986.8H247.2zM100.4 986.8H109.6V994.7H100.4zM228.9 986.8H238.1V994.7H228.9zM91.3 1002.6H100.4V1010.4H91.3zM118.8 1002.6H128.0V1010.4H118.8zM146.3 1002.6H155.5V1010.4H146.3zM357.3 1002.6H366.5V1010.4H357.3zM384.9 1002.6H394.0V1010.4H384.9zM63.7 1010.4H82.1V1018.3H63.7zM82.1 1018.3H91.3V1026.2H82.1zM100.4 1018.3H109.6V1026.2H100.4zM118.8 1018.3H128.0V1026.2H118.8zM91.3 1034.0H100.4V1041.9H91.3zM201.4 1041.9H210.5V1049.8H201.4zM293.1 1049.8H302.3V1057.6H293.1zM339.0 1049.8H348.2V1057.6H339.0zM63.7 1057.6H82.1V1065.5H63.7zM394.0 1057.6H403.2V1065.5H394.0zM439.9 1057.6H449.1V1065.5H439.9zM586.7 1057.6H595.9V1065.5H586.7zM155.5 1065.5H164.7V1073.4H155.5zM302.3 1065.5H311.5V1073.4H302.3zM403.2 1065.5H412.4V1073.4H403.2zM439.9 1065.5H449.1V1073.4H439.9zM91.3 1089.1H100.4V1097.0H91.3zM192.2 1097.0H201.4V1104.9H192.2zM219.7 1104.9H228.9V1112.7H219.7zM91.3 1112.7H100.4V1120.6H91.3zM164.7 1112.7H173.8V1120.6H164.7zM146.3 1120.6H155.5V1128.5H146.3zM522.5 1120.6H531.6V1128.5H522.5zM770.2 1120.6H779.4V1128.5H770.2zM128.0 1128.5H137.1V1136.3H128.0zM173.8 1136.3H183.0V1144.2H173.8zM155.5 1144.2H164.7V1152.1H155.5zM164.7 1152.1H173.8V1159.9H164.7zM219.7 1152.1H228.9V1159.9H219.7zM522.5 1152.1H531.6V1159.9H522.5zM82.1 1159.9H91.3V1167.8H82.1z"/>
<path fill="#550000" d="M100.4 892.4H118.8V900.3H100.4zM118.8 908.1H128.0V916.0H118.8zM100.4 916.0H118.8V923.9H100.4zM146.3 916.0H155.5V923.9H146.3zM164.7 931.7H173.8V939.6H164.7zM183.0 947.5H192.2V955.3H183.0zM256.4 947.5H265.6V955.3H256.4zM192.2 955.3H201.4V963.2H192.2zM137.1 979.0H146.3V986.8H137.1zM155.5 979.0H164.7V986.8H155.5zM210.5 979.0H219.7V986.8H210.5zM283.9 979.0H302.3V986.8H283.9zM192.2 986.8H210.5V994.7H192.2zM238.1 986.8H247.2V994.7H238.1zM128.0 994.7H137.1V1002.6H128.0zM228.9 1002.6H238.1V1010.4H228.9zM329.8 1002.6H339.0V1010.4H329.8zM348.2 1002.6H357.3V1010.4H348.2zM265.6 1010.4H274.8V1018.3H265.6zM210.5 1041.9H219.7V1049.8H210.5zM164.7 1049.8H173.8V1057.6H164.7zM238.1 1049.8H256.4V1057.6H238.1zM283.9 1049.8H293.1V1057.6H283.9zM403.2 1049.8H412.4V1057.6H403.2zM155.5 1057.6H173.8V1065.5H155.5zM293.1 1057.6H302.3V1065.5H293.1zM476.6 1057.6H485.8V1065.5H476.6zM504.1 1057.6H513.3V1065.5H504.1zM146.3 1065.5H155.5V1073.4H146.3zM228.9 1065.5H238.1V1073.4H228.9zM329.8 1065.5H339.0V1073.4H329.8zM357.3 1065.5H375.7V1073.4H357.3zM394.0 1065.5H403.2V1073.4H394.0zM421.6 1065.5H430.7V1073.4H421.6zM458.3 1065.5H467.4V1073.4H458.3zM504.1 1065.5H513.3V1073.4H504.1zM550.0 1065.5H559.2V1073.4H550.0zM632.6 1065.5H650.9V1073.4H632.6zM63.7 1073.4H82.1V1081.2H63.7zM228.9 1073.4H238.1V1081.2H228.9zM311.5 1073.4H320.6V1081.2H311.5zM63.7 1081.2H82.1V1089.1H63.7zM100.4 1081.2H109.6V1089.1H100.4zM164.7 1081.2H173.8V1089.1H164.7zM247.2 1081.2H256.4V1089.1H247.2zM293.1 1081.2H302.3V1089.1H293.1zM412.4 1081.2H421.6V1089.1H412.4zM522.5 1081.2H531.6V1089.1H522.5zM118.8 1097.0H128.0V1104.9H118.8zM183.0 1097.0H192.2V1104.9H183.0zM329.8 1097.0H339.0V1104.9H329.8zM82.1 1112.7H91.3V1120.6H82.1zM238.1 1112.7H247.2V1120.6H238.1zM329.8 1112.7H348.2V1120.6H329.8zM109.6 1120.6H128.0V1128.5H109.6zM320.6 1120.6H329.8V1128.5H320.6zM348.2 1120.6H357.3V1128.5H348.2zM375.7 1120.6H384.9V1128.5H375.7zM449.1 1120.6H458.3V1128.5H449.1zM504.1 1120.6H513.3V1128.5H504.1zM660.1 1120.6H669.3V1128.5H660.1zM696.8 1120.6H706.0V1128.5H696.8zM724.3 1120.6H751.9V1128.5H724.3zM761.0 1120.6H770.2V1128.5H761.0zM91.3 1136.3H100.4V1144.2H91.3zM265.6 1136.3H274.8V1144.2H265.6zM100.4 1144.2H109.6V1152.1H100.4zM173.8 1144.2H183.0V1152.1H173.8zM247.2 1144.2H256.4V1152.1H247.2zM274.8 1144.2H283.9V1152.1H274.8zM137.1 1152.1H146.3V1159.9H137.1zM201.4 1152.1H210.5V1159.9H201.4zM586.7 1152.1H605.1V1159.9H586.7zM137.1 1159.9H146.3V1167.8H137.1z"/>
<path fill="#ff0000" d="M63.7 900.3H82.1V908.1H63.7zM91.3 900.3H100.4V908.1H91.3zM63.7 923.9H82.1V931.7H63.7zM128.0 923.9H146.3V931.7H128.0zM109.6 931.7H128.0V939.6H109.6zM155.5 947.5H164.7V955.3H155.5zM283.9 947.5H293.1V955.3H283.9zM82.1 955.3H91.3V963.2H82.1zM210.5 955.3H219.7V963.2H210.5zM82.1 979.0H91.3V986.8H82.1zM183.0 979.0H192.2V986.8H183.0zM274.8 979.0H283.9V986.8H274.8zM155.5 986.8H173.8V994.7H155.5zM183.0 986.8H192.2V994.7H183.0zM118.8 994.7H128.0V1002.6H118.8zM183.0 994.7H201.4V1002.6H183.0zM210.5 994.7H219.7V1002.6H210.5zM228.9 994.7H238.1V1002.6H228.9zM82.1 1002.6H91.3V1010.4H82.1zM109.6 1002.6H118.8V1010.4H109.6zM155.5 1002.6H164.7V1010.4H155.5zM210.5 1002.6H228.9V1010.4H210.5zM238.1 1002.6H247.2V1010.4H238.1zM265.6 1002.6H274.8V1010.4H265.6zM128.0 1010.4H146.3V1018.3H128.0zM201.4 1010.4H210.5V1018.3H201.4zM238.1 1010.4H247.2V1018.3H238.1zM302.3 1010.4H311.5V1018.3H302.3zM63.7 1018.3H82.1V1026.2H63.7zM91.3 1018.3H100.4V1026.2H91.3zM109.6 1018.3H118.8V1026.2H109.6zM82.1 1034.0H91.3V1041.9H82.1zM82.1 1041.9H91.3V1049.8H82.1zM146.3 1041.9H164.7V1049.8H146.3zM173.8 1041.9H183.0V1049.8H173.8zM192.2 1041.9H201.4V1049.8H192.2zM137.1 1049.8H146.3V1057.6H137.1zM183.0 1049.8H201.4V1057.6H183.0zM329.8 1049.8H339.0V1057.6H329.8zM91.3 1057.6H100.4V1065.5H91.3zM109.6 1057.6H118.8V1065.5H109.6zM192.2 1057.6H201.4V1065.5H192.2zM219.7 1057.6H228.9V1065.5H219.7zM311.5 1057.6H320.6V1065.5H311.5zM329.8 1057.6H339.0V1065.5H329.8zM430.7 1057.6H439.9V1065.5H430.7zM522.5 1057.6H531.6V1065.5H522.5zM614.2 1057.6H623.4V1065.5H614.2zM118.8 1065.5H137.1V1073.4H118.8zM412.4 1065.5H421.6V1073.4H412.4zM467.4 1065.5H476.6V1073.4H467.4zM495.0 1065.5H504.1V1073.4H495.0zM82.1 1073.4H91.3V1081.2H82.1zM100.4 1073.4H109.6V1081.2H100.4zM201.4 1073.4H210.5V1081.2H201.4zM219.7 1073.4H228.9V1081.2H219.7zM128.0 1081.2H137.1V1089.1H128.0zM173.8 1081.2H183.0V1089.1H173.8zM201.4 1081.2H210.5V1089.1H201.4zM320.6 1081.2H329.8V1089.1H320.6zM375.7 1081.2H384.9V1089.1H375.7zM403.2 1081.2H412.4V1089.1H403.2zM586.7 1081.2H605.1V1089.1H586.7zM614.2 1081.2H623.4V1089.1H614.2zM155.5 1089.1H164.7V1097.0H155.5zM247.2 1097.0H265.6V1104.9H247.2zM274.8 1097.0H283.9V1104.9H274.8zM293.1 1097.0H302.3V1104.9H293.1zM91.3 1104.9H100.4V1112.7H91.3zM210.5 1112.7H219.7V1120.6H210.5zM293.1 1112.7H302.3V1120.6H293.1zM164.7 1120.6H173.8V1128.5H164.7zM329.8 1120.6H339.0V1128.5H329.8zM357.3 1120.6H366.5V1128.5H357.3zM531.6 1120.6H540.8V1128.5H531.6zM568.4 1120.6H577.5V1128.5H568.4zM595.9 1120.6H605.1V1128.5H595.9zM614.2 1120.6H623.4V1128.5H614.2zM641.8 1120.6H650.9V1128.5H641.8zM118.8 1128.5H128.0V1136.3H118.8zM137.1 1128.5H146.3V1136.3H137.1zM201.4 1136.3H210.5V1144.2H201.4zM247.2 1136.3H256.4V1144.2H247.2zM274.8 1136.3H283.9V1144.2H274.8zM63.7 1144.2H91.3V1152.1H63.7zM109.6 1144.2H118.8V1152.1H109.6zM302.3 1144.2H311.5V1152.1H302.3zM82.1 1152.1H91.3V1159.9H82.1zM128.0 1152.1H137.1V1159.9H128.0zM238.1 1152.1H247.2V1159.9H238.1zM265.6 1152.1H274.8V1159.9H265.6zM320.6 1152.1H329.8V1159.9H320.6zM467.4 1152.1H476.6V1159.9H467.4zM632.6 1152.1H641.8V1159.9H632.6zM109.6 1159.9H128.0V1167.8H109.6zM173.8 1159.9H183.0V1167.8H173.8zM274.8 1159.9H293.1V1167.8H274.8z"/>
<path fill="#ffffff" d="M82.1 900.3H91.3V908.1H82.1zM100.4 900.3H109.6V908.1H100.4zM91.3 908.1H100.4V916.0H91.3zM100.4 923.9H109.6V931.7H100.4zM91.3 931.7H100.4V939.6H91.3zM128.0 931.7H137.1V939.6H128.0zM173.8 931.7H183.0V939.6H173.8zM63.7 947.5H82.1V955.3H63.7zM91.3 947.5H100.4V955.3H91.3zM146.3 947.5H155.5V955.3H146.3zM228.9 947.5H238.1V955.3H228.9zM265.6 947.5H274.8V955.3H265.6zM100.4 955.3H109.6V963.2H100.4zM146.3 955.3H155.5V963.2H146.3zM183.0 955.3H192.2V963.2H183.0zM82.1 963.2H91.3V971.1H82.1zM128.0 963.2H137.1V971.1H128.0zM100.4 971.1H109.6V979.0H100.4zM100.4 979.0H109.6V986.8H100.4zM146.3 979.0H155.5V986.8H146.3zM173.8 979.0H183.0V986.8H173.8zM192.2 979.0H201.4V986.8H192.2zM256.4 979.0H265.6V986.8H256.4zM137.1 986.8H146.3V994.7H137.1zM173.8 986.8H183.0V994.7H173.8zM247.2 986.8H256.4V994.7H247.2zM91.3 994.7H100.4V1002.6H91.3zM164.7 994.7H173.8V1002.6H164.7zM201.4 994.7H210.5V1002.6H201.4zM100.4 1002.6H109.6V1010.4H100.4zM137.1 1002.6H146.3V1010.4H137.1zM173.8 1002.6H183.0V1010.4H173.8zM256.4 1002.6H265.6V1010.4H256.4zM293.1 1002.6H302.3V1010.4H293.1zM109.6 1010.4H118.8V1018.3H109.6zM146.3 1010.4H155.5V1018.3H146.3zM192.2 1010.4H201.4V1018.3H192.2zM219.7 1010.4H228.9V1018.3H219.7zM293.1 1010.4H302.3V1018.3H293.1zM339.0 1010.4H348.2V1018.3H339.0zM91.3 1041.9H100.4V1049.8H91.3zM137.1 1041.9H146.3V1049.8H137.1zM164.7 1041.9H173.8V1049.8H164.7zM183.0 1041.9H192.2V1049.8H183.0zM173.8 1049.8H183.0V1057.6H173.8zM201.4 1049.8H210.5V1057.6H201.4zM256.4 1049.8H265.6V1057.6H256.4zM320.6 1049.8H329.8V1057.6H320.6zM100.4 1057.6H109.6V1065.5H100.4zM173.8 1057.6H183.0V1065.5H173.8zM228.9 1057.6H238.1V1065.5H228.9zM256.4 1057.6H265.6V1065.5H256.4zM302.3 1057.6H311.5V1065.5H302.3zM357.3 1057.6H366.5V1065.5H357.3zM384.9 1057.6H394.0V1065.5H384.9zM421.6 1057.6H430.7V1065.5H421.6zM485.8 1057.6H495.0V1065.5H485.8zM513.3 1057.6H522.5V1065.5H513.3zM595.9 1057.6H605.1V1065.5H595.9zM109.6 1065.5H118.8V1073.4H109.6zM137.1 1065.5H146.3V1073.4H137.1zM173.8 1065.5H183.0V1073.4H173.8zM247.2 1065.5H256.4V1073.4H247.2zM293.1 1065.5H302.3V1073.4H293.1zM339.0 1065.5H348.2V1073.4H339.0zM384.9 1065.5H394.0V1073.4H384.9zM430.7 1065.5H439.9V1073.4H430.7zM476.6 1065.5H485.8V1073.4H476.6zM531.6 1065.5H540.8V1073.4H531.6zM559.2 1065.5H568.4V1073.4H559.2zM91.3 1073.4H100.4V1081.2H91.3zM109.6 1073.4H118.8V1081.2H109.6zM155.5 1073.4H164.7V1081.2H155.5zM265.6 1073.4H274.8V1081.2H265.6zM82.1 1081.2H91.3V1089.1H82.1zM109.6 1081.2H118.8V1089.1H109.6zM183.0 1081.2H192.2V1089.1H183.0zM228.9 1081.2H238.1V1089.1H228.9zM256.4 1081.2H265.6V1089.1H256.4zM283.9 1081.2H293.1V1089.1H283.9zM311.5 1081.2H320.6V1089.1H311.5zM366.5 1081.2H375.7V1089.1H366.5zM449.1 1081.2H458.3V1089.1H449.1zM476.6 1081.2H485.8V1089.1H476.6zM550.0 1081.2H559.2V1089.1H550.0zM577.5 1081.2H586.7V1089.1H577.5zM605.1 1081.2H614.2V1089.1H605.1zM623.4 1081.2H632.6V1089.1H623.4zM100.4 1089.1H109.6V1097.0H100.4zM63.7 1097.0H82.1V1104.9H63.7zM128.0 1097.0H137.1V1104.9H128.0zM173.8 1097.0H183.0V1104.9H173.8zM228.9 1097.0H238.1V1104.9H228.9zM265.6 1097.0H274.8V1104.9H265.6zM339.0 1097.0H348.2V1104.9H339.0zM100.4 1104.9H109.6V1112.7H100.4zM146.3 1104.9H155.5V1112.7H146.3zM210.5 1104.9H219.7V1112.7H210.5zM63.7 1112.7H82.1V1120.6H63.7zM128.0 1112.7H137.1V1120.6H128.0zM155.5 1112.7H164.7V1120.6H155.5zM192.2 1112.7H201.4V1120.6H192.2zM219.7 1112.7H228.9V1120.6H219.7zM283.9 1112.7H293.1V1120.6H283.9zM302.3 1112.7H311.5V1120.6H302.3zM82.1 1120.6H91.3V1128.5H82.1zM155.5 1120.6H164.7V1128.5H155.5zM201.4 1120.6H210.5V1128.5H201.4zM283.9 1120.6H293.1V1128.5H283.9zM366.5 1120.6H375.7V1128.5H366.5zM394.0 1120.6H403.2V1128.5H394.0zM458.3 1120.6H467.4V1128.5H458.3zM513.3 1120.6H522.5V1128.5H513.3zM559.2 1120.6H568.4V1128.5H559.2zM623.4 1120.6H632.6V1128.5H623.4zM687.6 1120.6H696.8V1128.5H687.6zM715.2 1120.6H724.3V1128.5H715.2zM751.9 1120.6H761.0V1128.5H751.9zM109.6 1128.5H118.8V1136.3H109.6zM82.1 1136.3H91.3V1144.2H82.1zM118.8 1136.3H128.0V1144.2H118.8zM164.7 1136.3H173.8V1144.2H164.7zM219.7 1136.3H228.9V1144.2H219.7zM91.3 1144.2H100.4V1152.1H91.3zM164.7 1144.2H173.8V1152.1H164.7zM192.2 1144.2H201.4V1152.1H192.2zM210.5 1144.2H219.7V1152.1H210.5zM265.6 1144.2H274.8V1152.1H265.6zM91.3 1152.1H100.4V1159.9H91.3zM173.8 1152.1H183.0V1159.9H173.8zM210.5 1152.1H219.7V1159.9H210.5zM247.2 1152.1H256.4V1159.9H247.2zM311.5 1152.1H320.6V1159.9H311.5zM348.2 1152.1H357.3V1159.9H348.2zM430.7 1152.1H439.9V1159.9H430.7zM458.3 1152.1H467.4V1159.9H458.3zM476.6 1152.1H485.8V1159.9H476.6zM531.6 1152.1H540.8V1159.9H531.6zM559.2 1152.1H568.4V1159.9H559.2zM63.7 1159.9H82.1V1167.8H63.7zM128.0 1159.9H137.1V1167.8H128.0zM183.0 1159.9H192.2V1167.8H183.0zM210.5 1159.9H219.7V1167.8H210.5zM247.2 1159.9H256.4V1167.8H247.2z"/>
<path fill="#aa0000" d="M118.8 900.3H128.0V908.1H118.8zM63.7 908.1H82.1V916.0H63.7zM118.8 923.9H128.0V931.7H118.8zM155.5 931.7H164.7V939.6H155.5zM118.8 947.5H128.0V955.3H118.8zM201.4 947.5H210.5V955.3H201.4zM164.7 955.3H173.8V963.2H164.7zM63.7 971.1H82.1V979.0H63.7zM137.1 971.1H146.3V979.0H137.1zM109.6 986.8H118.8V994.7H109.6zM265.6 986.8H274.8V994.7H265.6zM247.2 994.7H256.4V1002.6H247.2zM366.5 1002.6H375.7V1010.4H366.5zM247.2 1010.4H256.4V1018.3H247.2zM100.4 1049.8H109.6V1057.6H100.4zM118.8 1049.8H128.0V1057.6H118.8zM219.7 1049.8H228.9V1057.6H219.7zM82.1 1057.6H91.3V1065.5H82.1zM449.1 1057.6H458.3V1065.5H449.1zM568.4 1057.6H577.5V1065.5H568.4zM82.1 1065.5H91.3V1073.4H82.1zM238.1 1073.4H247.2V1081.2H238.1zM293.1 1073.4H302.3V1081.2H293.1zM238.1 1081.2H247.2V1089.1H238.1zM348.2 1081.2H357.3V1089.1H348.2zM421.6 1081.2H430.7V1089.1H421.6zM458.3 1081.2H467.4V1089.1H458.3zM641.8 1081.2H650.9V1089.1H641.8zM137.1 1089.1H155.5V1097.0H137.1zM91.3 1097.0H100.4V1104.9H91.3zM357.3 1097.0H366.5V1104.9H357.3zM128.0 1104.9H137.1V1112.7H128.0zM183.0 1104.9H192.2V1112.7H183.0zM238.1 1104.9H247.2V1112.7H238.1zM100.4 1112.7H109.6V1120.6H100.4zM201.4 1112.7H210.5V1120.6H201.4zM256.4 1112.7H265.6V1120.6H256.4zM320.6 1112.7H329.8V1120.6H320.6zM128.0 1120.6H137.1V1128.5H128.0zM439.9 1120.6H449.1V1128.5H439.9zM146.3 1128.5H155.5V1136.3H146.3zM109.6 1136.3H118.8V1144.2H109.6zM137.1 1136.3H146.3V1144.2H137.1zM192.2 1136.3H201.4V1144.2H192.2zM137.1 1144.2H146.3V1152.1H137.1zM146.3 1152.1H155.5V1159.9H146.3zM192.2 1152.1H201.4V1159.9H192.2zM228.9 1152.1H238.1V1159.9H228.9zM375.7 1152.1H384.9V1159.9H375.7zM403.2 1152.1H412.4V1159.9H403.2zM439.9 1152.1H449.1V1159.9H439.9zM605.1 1152.1H614.2V1159.9H605.1zM265.6 1159.9H274.8V1167.8H265.6z"/>
<path fill="#cc0000" d="M128.0 900.3H155.5V908.1H128.0zM128.0 908.1H137.1V916.0H128.0zM82.1 916.0H91.3V923.9H82.1zM128.0 916.0H137.1V923.9H128.0zM164.7 916.0H173.8V923.9H164.7zM91.3 923.9H100.4V931.7H91.3zM63.7 931.7H82.1V939.6H63.7zM146.3 931.7H155.5V939.6H146.3zM109.6 947.5H118.8V955.3H109.6zM247.2 947.5H256.4V955.3H247.2zM311.5 947.5H320.6V955.3H311.5zM91.3 955.3H100.4V963.2H91.3zM118.8 955.3H137.1V963.2H118.8zM219.7 955.3H228.9V963.2H219.7zM63.7 963.2H82.1V971.1H63.7zM164.7 979.0H173.8V986.8H164.7zM265.6 979.0H274.8V986.8H265.6zM91.3 986.8H100.4V994.7H91.3zM210.5 986.8H228.9V994.7H210.5zM109.6 994.7H118.8V1002.6H109.6zM183.0 1002.6H192.2V1010.4H183.0zM164.7 1010.4H173.8V1018.3H164.7zM210.5 1010.4H219.7V1018.3H210.5zM228.9 1010.4H238.1V1018.3H228.9zM357.3 1010.4H366.5V1018.3H357.3zM63.7 1026.2H82.1V1034.0H63.7zM109.6 1041.9H118.8V1049.8H109.6zM63.7 1049.8H82.1V1057.6H63.7zM265.6 1049.8H274.8V1057.6H265.6zM302.3 1049.8H311.5V1057.6H302.3zM118.8 1057.6H128.0V1065.5H118.8zM366.5 1057.6H375.7V1065.5H366.5zM403.2 1057.6H412.4V1065.5H403.2zM531.6 1057.6H540.8V1065.5H531.6zM63.7 1065.5H82.1V1073.4H63.7zM201.4 1065.5H210.5V1073.4H201.4zM219.7 1065.5H228.9V1073.4H219.7zM274.8 1065.5H283.9V1073.4H274.8zM348.2 1065.5H357.3V1073.4H348.2zM577.5 1065.5H586.7V1073.4H577.5zM623.4 1065.5H632.6V1073.4H623.4zM128.0 1073.4H137.1V1081.2H128.0zM247.2 1073.4H256.4V1081.2H247.2zM274.8 1073.4H293.1V1081.2H274.8zM118.8 1081.2H128.0V1089.1H118.8zM274.8 1081.2H283.9V1089.1H274.8zM302.3 1081.2H311.5V1089.1H302.3zM339.0 1081.2H348.2V1089.1H339.0zM504.1 1081.2H513.3V1089.1H504.1zM531.6 1081.2H540.8V1089.1H531.6zM63.7 1089.1H91.3V1097.0H63.7zM155.5 1097.0H164.7V1104.9H155.5zM283.9 1097.0H293.1V1104.9H283.9zM63.7 1104.9H82.1V1112.7H63.7zM118.8 1104.9H128.0V1112.7H118.8zM173.8 1104.9H183.0V1112.7H173.8zM228.9 1104.9H238.1V1112.7H228.9zM173.8 1120.6H183.0V1128.5H173.8zM219.7 1120.6H228.9V1128.5H219.7zM238.1 1120.6H247.2V1128.5H238.1zM302.3 1120.6H311.5V1128.5H302.3zM384.9 1120.6H394.0V1128.5H384.9zM412.4 1120.6H421.6V1128.5H412.4zM706.0 1120.6H715.2V1128.5H706.0zM100.4 1128.5H109.6V1136.3H100.4zM63.7 1136.3H82.1V1144.2H63.7zM100.4 1136.3H109.6V1144.2H100.4zM183.0 1136.3H192.2V1144.2H183.0zM228.9 1136.3H238.1V1144.2H228.9zM183.0 1144.2H192.2V1152.1H183.0zM238.1 1144.2H247.2V1152.1H238.1zM283.9 1144.2H293.1V1152.1H283.9zM183.0 1152.1H192.2V1159.9H183.0zM540.8 1152.1H550.0V1159.9H540.8zM201.4 1159.9H210.5V1167.8H201.4z"/>
<path fill="#2a0000" d="M82.1 908.1H91.3V916.0H82.1zM109.6 908.1H118.8V916.0H109.6zM91.3 916.0H100.4V923.9H91.3zM137.1 916.0H146.3V923.9H137.1zM173.8 916.0H183.0V923.9H173.8zM82.1 931.7H91.3V939.6H82.1zM192.2 931.7H201.4V939.6H192.2zM82.1 939.6H91.3V947.5H82.1zM329.8 947.5H348.2V955.3H329.8zM201.4 955.3H210.5V963.2H201.4zM228.9 955.3H238.1V963.2H228.9zM247.2 955.3H256.4V963.2H247.2zM91.3 971.1H100.4V979.0H91.3zM63.7 979.0H82.1V986.8H63.7zM118.8 979.0H128.0V986.8H118.8zM219.7 979.0H228.9V986.8H219.7zM63.7 986.8H82.1V994.7H63.7zM128.0 986.8H137.1V994.7H128.0zM283.9 986.8H293.1V994.7H283.9zM63.7 994.7H91.3V1002.6H63.7zM155.5 994.7H164.7V1002.6H155.5zM63.7 1002.6H82.1V1010.4H63.7zM128.0 1002.6H137.1V1010.4H128.0zM192.2 1002.6H201.4V1010.4H192.2zM302.3 1002.6H311.5V1010.4H302.3zM320.6 1002.6H329.8V1010.4H320.6zM82.1 1010.4H91.3V1018.3H82.1zM100.4 1010.4H109.6V1018.3H100.4zM118.8 1010.4H128.0V1018.3H118.8zM274.8 1010.4H283.9V1018.3H274.8zM311.5 1010.4H320.6V1018.3H311.5zM128.0 1018.3H137.1V1026.2H128.0zM63.7 1034.0H82.1V1041.9H63.7zM128.0 1041.9H137.1V1049.8H128.0zM82.1 1049.8H91.3V1057.6H82.1zM348.2 1049.8H357.3V1057.6H348.2zM384.9 1049.8H403.2V1057.6H384.9zM128.0 1057.6H137.1V1065.5H128.0zM210.5 1057.6H219.7V1065.5H210.5zM247.2 1057.6H256.4V1065.5H247.2zM274.8 1057.6H293.1V1065.5H274.8zM339.0 1057.6H357.3V1065.5H339.0zM540.8 1057.6H550.0V1065.5H540.8zM164.7 1065.5H173.8V1073.4H164.7zM265.6 1065.5H274.8V1073.4H265.6zM311.5 1065.5H329.8V1073.4H311.5zM375.7 1065.5H384.9V1073.4H375.7zM449.1 1065.5H458.3V1073.4H449.1zM485.8 1065.5H495.0V1073.4H485.8zM513.3 1065.5H522.5V1073.4H513.3zM605.1 1065.5H614.2V1073.4H605.1zM137.1 1073.4H146.3V1081.2H137.1zM164.7 1073.4H173.8V1081.2H164.7zM137.1 1081.2H155.5V1089.1H137.1zM219.7 1081.2H228.9V1089.1H219.7zM394.0 1081.2H403.2V1089.1H394.0zM495.0 1081.2H504.1V1089.1H495.0zM568.4 1081.2H577.5V1089.1H568.4zM118.8 1089.1H128.0V1097.0H118.8zM201.4 1097.0H228.9V1104.9H201.4zM302.3 1097.0H311.5V1104.9H302.3zM137.1 1104.9H146.3V1112.7H137.1zM173.8 1112.7H183.0V1120.6H173.8zM357.3 1112.7H366.5V1120.6H357.3zM100.4 1120.6H109.6V1128.5H100.4zM192.2 1120.6H201.4V1128.5H192.2zM256.4 1120.6H274.8V1128.5H256.4zM550.0 1120.6H559.2V1128.5H550.0zM669.3 1120.6H678.5V1128.5H669.3zM779.4 1120.6H788.6V1128.5H779.4zM63.7 1128.5H82.1V1136.3H63.7zM155.5 1136.3H164.7V1144.2H155.5zM210.5 1136.3H219.7V1144.2H210.5zM63.7 1152.1H82.1V1159.9H63.7zM118.8 1152.1H128.0V1159.9H118.8zM274.8 1152.1H283.9V1159.9H274.8zM366.5 1152.1H375.7V1159.9H366.5zM100.4 1159.9H109.6V1167.8H100.4zM164.7 1159.9H173.8V1167.8H164.7z"/>
<path fill="#ffc800" d="M82.1 923.9H91.3V931.7H82.1zM109.6 923.9H118.8V931.7H109.6zM293.1 947.5H311.5V955.3H293.1zM63.7 955.3H82.1V963.2H63.7zM118.8 971.1H128.0V979.0H118.8zM82.1 986.8H91.3V994.7H82.1zM247.2 1002.6H256.4V1010.4H247.2zM173.8 1010.4H183.0V1018.3H173.8zM320.6 1010.4H329.8V1018.3H320.6zM366.5 1010.4H375.7V1018.3H366.5zM63.7 1041.9H82.1V1049.8H63.7zM146.3 1049.8H164.7V1057.6H146.3zM137.1 1057.6H155.5V1065.5H137.1zM550.0 1057.6H568.4V1065.5H550.0zM586.7 1065.5H595.9V1073.4H586.7zM192.2 1073.4H201.4V1081.2H192.2zM320.6 1097.0H329.8V1104.9H320.6zM183.0 1112.7H192.2V1120.6H183.0zM348.2 1112.7H357.3V1120.6H348.2zM228.9 1120.6H238.1V1128.5H228.9zM485.8 1120.6H504.1V1128.5H485.8zM577.5 1120.6H586.7V1128.5H577.5zM82.1 1128.5H100.4V1136.3H82.1zM128.0 1136.3H137.1V1144.2H128.0zM146.3 1136.3H155.5V1144.2H146.3zM238.1 1136.3H247.2V1144.2H238.1zM118.8 1144.2H137.1V1152.1H118.8zM219.7 1144.2H238.1V1152.1H219.7zM109.6 1152.1H118.8V1159.9H109.6zM256.4 1159.9H265.6V1167.8H256.4z"/>
<path fill="#ffaa00" d="M63.7 939.6H82.1V947.5H63.7zM82.1 971.1H91.3V979.0H82.1zM201.4 1057.6H210.5V1065.5H201.4zM632.6 1081.2H641.8V1089.1H632.6zM137.1 1097.0H146.3V1104.9H137.1zM311.5 1097.0H320.6V1104.9H311.5zM118.8 1112.7H128.0V1120.6H118.8zM311.5 1112.7H320.6V1120.6H311.5z"/>
<path fill="#ff2a00" d="M100.4 939.6H109.6V947.5H100.4zM100.4 947.5H109.6V955.3H100.4zM155.5 955.3H164.7V963.2H155.5zM173.8 955.3H183.0V963.2H173.8zM164.7 1002.6H173.8V1010.4H164.7zM201.4 1002.6H210.5V1010.4H201.4zM283.9 1002.6H293.1V1010.4H283.9zM183.0 1010.4H192.2V1018.3H183.0zM283.9 1010.4H293.1V1018.3H283.9zM375.7 1010.4H384.9V1018.3H375.7zM375.7 1057.6H384.9V1065.5H375.7zM458.3 1057.6H476.6V1065.5H458.3zM256.4 1065.5H265.6V1073.4H256.4zM595.9 1065.5H605.1V1073.4H595.9zM146.3 1073.4H155.5V1081.2H146.3zM210.5 1081.2H219.7V1089.1H210.5zM357.3 1081.2H366.5V1089.1H357.3zM650.9 1081.2H660.1V1089.1H650.9zM82.1 1097.0H91.3V1104.9H82.1zM100.4 1097.0H109.6V1104.9H100.4zM228.9 1112.7H238.1V1120.6H228.9zM274.8 1120.6H283.9V1128.5H274.8zM678.5 1120.6H687.6V1128.5H678.5zM201.4 1144.2H210.5V1152.1H201.4zM256.4 1144.2H265.6V1152.1H256.4zM293.1 1144.2H302.3V1152.1H293.1zM283.9 1152.1H293.1V1159.9H283.9zM339.0 1152.1H348.2V1159.9H339.0z"/>
<path fill="#ff5500" d="M238.1 947.5H247.2V955.3H238.1zM109.6 955.3H118.8V963.2H109.6zM137.1 955.3H146.3V963.2H137.1zM137.1 963.2H146.3V971.1H137.1zM109.6 971.1H118.8V979.0H109.6zM155.5 971.1H164.7V979.0H155.5zM201.4 979.0H210.5V986.8H201.4zM274.8 986.8H283.9V994.7H274.8zM155.5 1010.4H164.7V1018.3H155.5zM329.8 1010.4H339.0V1018.3H329.8zM348.2 1010.4H357.3V1018.3H348.2zM109.6 1049.8H118.8V1057.6H109.6zM100.4 1065.5H109.6V1073.4H100.4zM439.9 1081.2H449.1V1089.1H439.9zM485.8 1081.2H495.0V1089.1H485.8zM540.8 1081.2H550.0V1089.1H540.8zM109.6 1089.1H118.8V1097.0H109.6zM348.2 1097.0H357.3V1104.9H348.2zM201.4 1104.9H210.5V1112.7H201.4zM256.4 1104.9H265.6V1112.7H256.4zM274.8 1112.7H283.9V1120.6H274.8zM91.3 1120.6H100.4V1128.5H91.3zM467.4 1120.6H476.6V1128.5H467.4zM256.4 1152.1H265.6V1159.9H256.4zM394.0 1152.1H403.2V1159.9H394.0zM421.6 1152.1H430.7V1159.9H421.6zM550.0 1152.1H559.2V1159.9H550.0zM623.4 1152.1H632.6V1159.9H623.4z"/>
<path fill="#ffff00" d="M238.1 955.3H247.2V963.2H238.1zM238.1 994.7H247.2V1002.6H238.1zM173.8 1073.4H183.0V1081.2H173.8zM513.3 1152.1H522.5V1159.9H513.3zM568.4 1152.1H577.5V1159.9H568.4z"/>
<path fill="#ffff55" d="M109.6 963.2H118.8V971.1H109.6zM238.1 979.0H247.2V986.8H238.1zM100.4 994.7H109.6V1002.6H100.4zM311.5 1002.6H320.6V1010.4H311.5zM100.4 1041.9H109.6V1049.8H100.4zM91.3 1049.8H100.4V1057.6H91.3zM128.0 1049.8H137.1V1057.6H128.0zM366.5 1049.8H384.9V1057.6H366.5zM265.6 1057.6H274.8V1065.5H265.6zM210.5 1065.5H219.7V1073.4H210.5zM540.8 1065.5H550.0V1073.4H540.8zM568.4 1065.5H577.5V1073.4H568.4zM183.0 1073.4H192.2V1081.2H183.0zM329.8 1081.2H339.0V1089.1H329.8zM210.5 1120.6H219.7V1128.5H210.5zM293.1 1120.6H302.3V1128.5H293.1zM339.0 1120.6H348.2V1128.5H339.0zM403.2 1120.6H412.4V1128.5H403.2zM540.8 1120.6H550.0V1128.5H540.8zM100.4 1152.1H109.6V1159.9H100.4zM357.3 1152.1H366.5V1159.9H357.3zM485.8 1152.1H495.0V1159.9H485.8zM219.7 1159.9H228.9V1167.8H219.7z"/>
</g>
<rect x="69.4" y="892.4" width="909.5" height="275.5" fill="none" stroke="#000" stroke-width="4.4"/>
<path d="M58.5 971.7H68" stroke="#000" stroke-width="4.1"/>
<text x="56.2" y="979.3" font-size="25" text-anchor="end">10</text>
<path d="M58.5 1055.2H68" stroke="#000" stroke-width="4.1"/>
<text x="56.2" y="1062.8" font-size="25" text-anchor="end">20</text>
<path d="M58.5 1138.6H68" stroke="#000" stroke-width="4.1"/>
<text x="56.2" y="1146.2" font-size="25" text-anchor="end">30</text>
<path d="M69.4 1169.1V1178.8" stroke="#000" stroke-width="4.4"/>
<path d="M151.8 1169.1V1178.8" stroke="#000" stroke-width="4.4"/>
<path d="M243.7 1169.1V1178.8" stroke="#000" stroke-width="4.4"/>
<path d="M335.7 1169.1V1178.8" stroke="#000" stroke-width="4.4"/>
<path d="M427.6 1169.1V1178.8" stroke="#000" stroke-width="4.4"/>
<path d="M519.5 1169.1V1178.8" stroke="#000" stroke-width="4.4"/>
<path d="M611.4 1169.1V1178.8" stroke="#000" stroke-width="4.4"/>
<path d="M703.3 1169.1V1178.8" stroke="#000" stroke-width="4.4"/>
<path d="M795.3 1169.1V1178.8" stroke="#000" stroke-width="4.4"/>
<path d="M887.2 1169.1V1178.8" stroke="#000" stroke-width="4.4"/>
<path d="M979.1 1169.1V1178.8" stroke="#000" stroke-width="4.4"/>
<text x="506.7" y="884.4" font-size="41.4">P2</text>
<text transform="translate(24.9 1128.8) rotate(-90)" font-size="30.2" textLength="196" lengthAdjust="spacingAndGlyphs">Message Num.</text>
</g>
<text x="69.8" y="1201" font-size="24.6" text-anchor="middle">0</text>
<text x="152.2" y="1201" font-size="24.6" text-anchor="middle">10</text>
<text x="243.6" y="1201" font-size="24.6" text-anchor="middle">20</text>
<text x="335.0" y="1201" font-size="24.6" text-anchor="middle">30</text>
<text x="426.4" y="1201" font-size="24.6" text-anchor="middle">40</text>
<text x="517.9" y="1201" font-size="24.6" text-anchor="middle">50</text>
<text x="609.2" y="1201" font-size="24.6" text-anchor="middle">60</text>
<text x="700.7" y="1201" font-size="24.6" text-anchor="middle">70</text>
<text x="792.0" y="1201" font-size="24.6" text-anchor="middle">80</text>
<text x="883.5" y="1201" font-size="24.6" text-anchor="middle">90</text>
<text x="974.9" y="1201" font-size="24.6" text-anchor="middle">100</text>
<text x="540" y="1230.5" font-size="33" text-anchor="middle">Character Count</text>
<text transform="translate(-7.1 568.4) scale(1.05 0.99)" font-size="112" font-weight="bold">b</text>
</g>
<g id="panel-c">
<text transform="translate(3.6 1264) scale(0.88 1)" font-size="106" font-weight="bold">c</text>
<rect x="103.7" y="1662.5" width="25.9" height="5.6" fill="#000"/>
<path d="M116.6 1668.1V1674.6" stroke="#000" stroke-width="2"/>
<text x="117.5" y="1698.1" font-size="25.3" text-anchor="middle">Q</text>
<rect x="135.0" y="1619.7" width="23.9" height="48.4" fill="#fbfbfb" stroke="#000" stroke-width="2"/>
<rect x="134.0" y="1645.8" width="25.9" height="22.3" fill="#000"/>
<path d="M146.9 1668.1V1674.6" stroke="#000" stroke-width="2"/>
<text x="148.5" y="1698.1" font-size="25.3" text-anchor="middle">W</text>
<rect x="165.3" y="1494.3" width="23.9" height="173.8" fill="#fbfbfb" stroke="#000" stroke-width="2"/>
<rect x="164.3" y="1582.2" width="25.9" height="85.9" fill="#000"/>
<path d="M177.3 1668.1V1674.6" stroke="#000" stroke-width="2"/>
<text x="175.6" y="1698.1" font-size="25.3" text-anchor="middle">E</text>
<rect x="195.6" y="1568.3" width="23.9" height="99.8" fill="#fbfbfb" stroke="#000" stroke-width="2"/>
<rect x="194.6" y="1612.0" width="25.9" height="56.1" fill="#000"/>
<path d="M207.6 1668.1V1674.6" stroke="#000" stroke-width="2"/>
<text x="205.5" y="1698.1" font-size="25.3" text-anchor="middle">R</text>
<rect x="226.0" y="1520.8" width="23.9" height="147.3" fill="#fbfbfb" stroke="#000" stroke-width="2"/>
<rect x="225.0" y="1591.1" width="25.9" height="77.0" fill="#000"/>
<path d="M237.9 1668.1V1674.6" stroke="#000" stroke-width="2"/>
<text x="235.7" y="1698.1" font-size="25.3" text-anchor="middle">T</text>
<rect x="256.3" y="1591.1" width="23.9" height="77.0" fill="#fbfbfb" stroke="#000" stroke-width="2"/>
<rect x="255.3" y="1634.6" width="25.9" height="33.5" fill="#000"/>
<path d="M268.2 1668.1V1674.6" stroke="#000" stroke-width="2"/>
<text x="266.2" y="1698.1" font-size="25.3" text-anchor="middle">Y</text>
<rect x="286.6" y="1597.1" width="23.9" height="71.0" fill="#fbfbfb" stroke="#000" stroke-width="2"/>
<rect x="285.6" y="1622.6" width="25.9" height="45.5" fill="#000"/>
<path d="M298.6 1668.1V1674.6" stroke="#000" stroke-width="2"/>
<text x="294.3" y="1698.1" font-size="25.3" text-anchor="middle">U</text>
<rect x="317.0" y="1547.3" width="23.9" height="120.8" fill="#fbfbfb" stroke="#000" stroke-width="2"/>
<rect x="316.0" y="1613.7" width="25.9" height="54.4" fill="#000"/>
<path d="M328.9 1668.1V1674.6" stroke="#000" stroke-width="2"/>
<text x="324.0" y="1698.1" font-size="25.3" text-anchor="middle">I</text>
<rect x="347.3" y="1523.5" width="23.9" height="144.6" fill="#fbfbfb" stroke="#000" stroke-width="2"/>
<rect x="346.3" y="1597.1" width="25.9" height="71.0" fill="#000"/>
<path d="M359.2 1668.1V1674.6" stroke="#000" stroke-width="2"/>
<text x="357.5" y="1698.1" font-size="25.3" text-anchor="middle">O</text>
<rect x="377.6" y="1618.3" width="23.9" height="49.8" fill="#fbfbfb" stroke="#000" stroke-width="2"/>
<rect x="376.6" y="1648.5" width="25.9" height="19.6" fill="#000"/>
<path d="M389.6 1668.1V1674.6" stroke="#000" stroke-width="2"/>
<text x="388.5" y="1698.1" font-size="25.3" text-anchor="middle">P</text>
<rect x="407.9" y="1519.9" width="23.9" height="148.2" fill="#fbfbfb" stroke="#000" stroke-width="2"/>
<rect x="406.9" y="1601.0" width="25.9" height="67.1" fill="#000"/>
<path d="M419.9 1668.1V1674.6" stroke="#000" stroke-width="2"/>
<text x="418.9" y="1698.1" font-size="25.3" text-anchor="middle">A</text>
<rect x="438.3" y="1554.6" width="23.9" height="113.5" fill="#fbfbfb" stroke="#000" stroke-width="2"/>
<rect x="437.3" y="1614.7" width="25.9" height="53.4" fill="#000"/>
<path d="M450.2 1668.1V1674.6" stroke="#000" stroke-width="2"/>
<text x="448.8" y="1698.1" font-size="25.3" text-anchor="middle">S</text>
<rect x="468.6" y="1599.8" width="23.9" height="68.3" fill="#fbfbfb" stroke="#000" stroke-width="2"/>
<rect x="467.6" y="1635.9" width="25.9" height="32.2" fill="#000"/>
<path d="M480.6 1668.1V1674.6" stroke="#000" stroke-width="2"/>
<text x="479.0" y="1698.1" font-size="25.3" text-anchor="middle">D</text>
<rect x="498.9" y="1644.8" width="23.9" height="23.3" fill="#fbfbfb" stroke="#000" stroke-width="2"/>
<rect x="497.9" y="1660.1" width="25.9" height="8.0" fill="#000"/>
<path d="M510.9 1668.1V1674.6" stroke="#000" stroke-width="2"/>
<text x="509.2" y="1698.1" font-size="25.3" text-anchor="middle">F</text>
<rect x="529.3" y="1598.8" width="23.9" height="69.3" fill="#fbfbfb" stroke="#000" stroke-width="2"/>
<rect x="528.3" y="1635.9" width="25.9" height="32.2" fill="#000"/>
<path d="M541.2 1668.1V1674.6" stroke="#000" stroke-width="2"/>
<text x="539.7" y="1698.1" font-size="25.3" text-anchor="middle">G</text>
<rect x="559.6" y="1577.2" width="23.9" height="90.9" fill="#fbfbfb" stroke="#000" stroke-width="2"/>
<rect x="558.6" y="1630.0" width="25.9" height="38.1" fill="#000"/>
<path d="M571.6 1668.1V1674.6" stroke="#000" stroke-width="2"/>
<text x="570.3" y="1698.1" font-size="25.3" text-anchor="middle">H</text>
<rect x="588.9" y="1666.6" width="25.9" height="1.5" fill="#000"/>
<rect x="588.9" y="1667.3" width="25.9" height="0.8" fill="#000"/>
<path d="M601.9 1668.1V1674.6" stroke="#000" stroke-width="2"/>
<text x="597.9" y="1698.1" font-size="25.3" text-anchor="middle">J</text>
<rect x="620.3" y="1643.5" width="23.9" height="24.6" fill="#fbfbfb" stroke="#000" stroke-width="2"/>
<rect x="619.3" y="1653.4" width="25.9" height="14.7" fill="#000"/>
<path d="M632.2 1668.1V1674.6" stroke="#000" stroke-width="2"/>
<text x="629.4" y="1698.1" font-size="25.3" text-anchor="middle">K</text>
<rect x="650.6" y="1568.5" width="23.9" height="99.6" fill="#fbfbfb" stroke="#000" stroke-width="2"/>
<rect x="649.6" y="1614.7" width="25.9" height="53.4" fill="#000"/>
<path d="M662.5 1668.1V1674.6" stroke="#000" stroke-width="2"/>
<text x="658.9" y="1698.1" font-size="25.3" text-anchor="middle">L</text>
<rect x="680.9" y="1385.3" width="23.9" height="282.8" fill="#fbfbfb" stroke="#000" stroke-width="2"/>
<rect x="679.9" y="1514.1" width="25.9" height="154.0" fill="#000"/>
<path d="M692.9 1668.1V1674.6" stroke="#000" stroke-width="2"/>
<text x="689.5" y="1698.1" font-size="25.3" text-anchor="middle">&lt;</text>
<rect x="710.2" y="1665.3" width="25.9" height="2.8" fill="#000"/>
<rect x="710.2" y="1666.1" width="25.9" height="2.0" fill="#000"/>
<path d="M723.2 1668.1V1674.6" stroke="#000" stroke-width="2"/>
<text x="720.7" y="1698.1" font-size="25.3" text-anchor="middle">Z</text>
<rect x="740.6" y="1665.3" width="25.9" height="2.8" fill="#000"/>
<rect x="740.6" y="1666.1" width="25.9" height="2.0" fill="#000"/>
<path d="M753.5 1668.1V1674.6" stroke="#000" stroke-width="2"/>
<text x="751.2" y="1698.1" font-size="25.3" text-anchor="middle">X</text>
<rect x="771.9" y="1635.9" width="23.9" height="32.2" fill="#fbfbfb" stroke="#000" stroke-width="2"/>
<rect x="770.9" y="1653.4" width="25.9" height="14.7" fill="#000"/>
<path d="M783.9 1668.1V1674.6" stroke="#000" stroke-width="2"/>
<text x="780.9" y="1698.1" font-size="25.3" text-anchor="middle">C</text>
<rect x="802.2" y="1660.1" width="23.9" height="8.0" fill="#fbfbfb" stroke="#000" stroke-width="2"/>
<rect x="801.2" y="1665.1" width="25.9" height="3.0" fill="#000"/>
<path d="M814.2 1668.1V1674.6" stroke="#000" stroke-width="2"/>
<text x="811.2" y="1698.1" font-size="25.3" text-anchor="middle">V</text>
<rect x="832.6" y="1639.9" width="23.9" height="28.2" fill="#fbfbfb" stroke="#000" stroke-width="2"/>
<rect x="831.6" y="1647.2" width="25.9" height="20.9" fill="#000"/>
<path d="M844.5 1668.1V1674.6" stroke="#000" stroke-width="2"/>
<text x="841.8" y="1698.1" font-size="25.3" text-anchor="middle">B</text>
<rect x="862.9" y="1558.6" width="23.9" height="109.5" fill="#fbfbfb" stroke="#000" stroke-width="2"/>
<rect x="861.9" y="1619.7" width="25.9" height="48.4" fill="#000"/>
<path d="M874.9 1668.1V1674.6" stroke="#000" stroke-width="2"/>
<text x="871.4" y="1698.1" font-size="25.3" text-anchor="middle">N</text>
<rect x="893.2" y="1626.2" width="23.9" height="41.9" fill="#fbfbfb" stroke="#000" stroke-width="2"/>
<rect x="892.2" y="1652.4" width="25.9" height="15.7" fill="#000"/>
<path d="M905.2 1668.1V1674.6" stroke="#000" stroke-width="2"/>
<text x="903.9" y="1698.1" font-size="25.3" text-anchor="middle">M</text>
<rect x="923.6" y="1314.8" width="23.9" height="353.3" fill="#fbfbfb" stroke="#000" stroke-width="2"/>
<rect x="922.6" y="1493.3" width="25.9" height="174.8" fill="#000"/>
<path d="M935.5 1668.1V1674.6" stroke="#000" stroke-width="2"/>
<text x="933.8" y="1698.1" font-size="25.3" text-anchor="middle" letter-spacing="1.4">[ ]</text>
<rect x="953.9" y="1583.5" width="23.9" height="84.6" fill="#fbfbfb" stroke="#000" stroke-width="2"/>
<rect x="952.9" y="1626.0" width="25.9" height="42.1" fill="#000"/>
<path d="M965.8 1668.1V1674.6" stroke="#000" stroke-width="2"/>
<text transform="translate(965.9 1707.8) scale(1 1.5)" font-size="28.5" text-anchor="middle">↵</text>
<path d="M86.1 1291.3V1669.2" stroke="#000" stroke-width="2.3"/>
<path d="M76.5 1668.1H988.5" stroke="#000" stroke-width="2.2"/>
<path d="M76.5 1668.1H86.1" stroke="#000" stroke-width="2"/>
<text x="75" y="1677.7" font-size="25" text-anchor="end">0</text>
<path d="M76.5 1605.4H86.1" stroke="#000" stroke-width="2"/>
<text x="75" y="1615.0" font-size="25" text-anchor="end">50</text>
<path d="M76.5 1542.7H86.1" stroke="#000" stroke-width="2"/>
<text x="75" y="1552.3" font-size="25" text-anchor="end">100</text>
<path d="M76.5 1480.0H86.1" stroke="#000" stroke-width="2"/>
<text x="75" y="1489.6" font-size="25" text-anchor="end">150</text>
<path d="M76.5 1417.3H86.1" stroke="#000" stroke-width="2"/>
<text x="75" y="1426.9" font-size="25" text-anchor="end">200</text>
<path d="M76.5 1354.6H86.1" stroke="#000" stroke-width="2"/>
<text x="75" y="1364.2" font-size="25" text-anchor="end">250</text>
<path d="M76.5 1291.9H86.1" stroke="#000" stroke-width="2"/>
<text x="75" y="1301.5" font-size="25" text-anchor="end">300</text>
<path d="M404.5 1300.5V1668.1" stroke="#000" stroke-width="1.6" stroke-dasharray="3.2 2.6"/>
<path d="M707.7 1300.5V1668.1" stroke="#000" stroke-width="1.6" stroke-dasharray="3.2 2.6"/>
<path d="M949.9 1300.5V1668.1" stroke="#000" stroke-width="1.6" stroke-dasharray="3.2 2.6"/>
<rect x="116.4" y="1280.4" width="33" height="31.2" fill="#000"/>
<rect x="118.2" y="1318.4" width="29.4" height="27.6" fill="#fbfbfb" stroke="#000" stroke-width="3.6"/>
<text x="157" y="1306.2" font-size="28.8">P1</text><text x="157" y="1341.9" font-size="28.8">P2</text>
<text x="243.6" y="1437.6" font-size="29" text-anchor="middle">Row 1</text>
<text x="547" y="1446.5" font-size="29" text-anchor="middle">Row 2</text>
<text x="820" y="1446.5" font-size="29" text-anchor="middle">Row 3</text>
<text transform="translate(25.4 1463.5) rotate(-90)" font-size="28.6" text-anchor="middle">Frequency (Count)</text>
<text x="552.6" y="1731.5" font-size="33" text-anchor="middle">BCI Key</text>
</g>
</svg></body></html>
